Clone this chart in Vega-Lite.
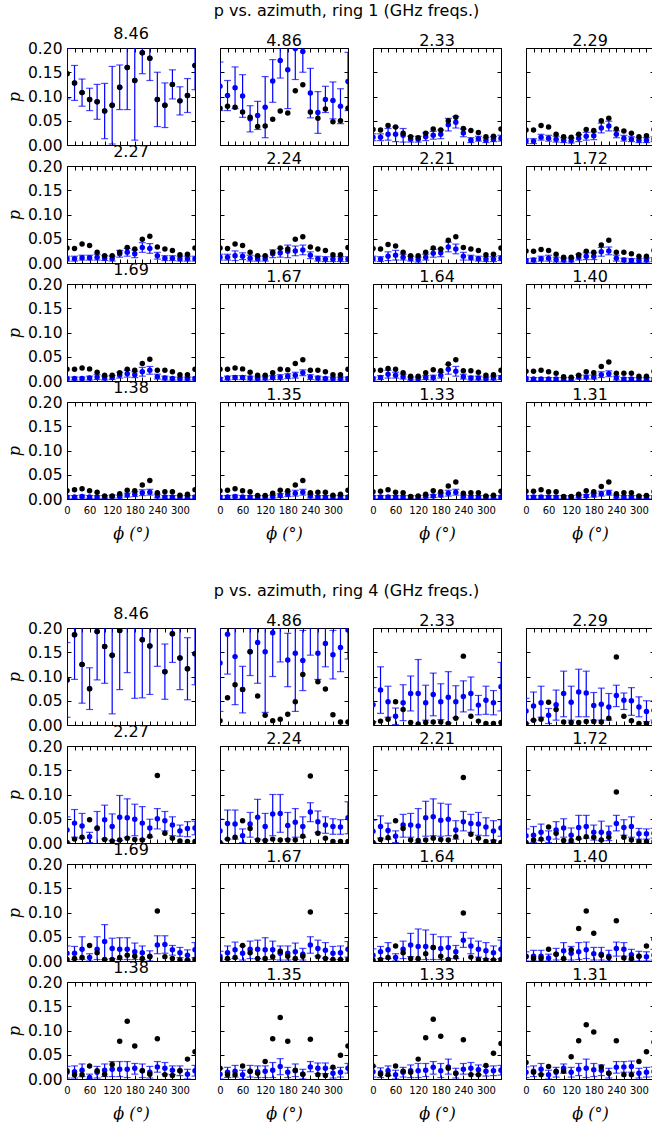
{
"$schema":"https://vega.github.io/schema/vega-lite/v6.json",
"padding":{"left":5,"top":2,"right":0,"bottom":0},
"spacing":40,
"datasets":{
"r1_846":[{"a":0,"b":0.147,"u":0.147,"lo":0.095,"hi":0.199},{"a":20,"b":0.128,"u":0.128,"lo":0.092,"hi":0.164},{"a":40,"b":0.108,"u":0.108,"lo":0.080,"hi":0.136},{"a":60,"b":0.094,"u":0.094,"lo":0.071,"hi":0.117},{"a":80,"b":0.089,"u":0.089,"lo":0.053,"hi":0.125},{"a":100,"b":0.070,"u":0.070,"lo":0.013,"hi":0.127},{"a":120,"b":0.082,"u":0.082,"lo":0.002,"hi":0.162},{"a":140,"b":0.119,"u":0.119,"lo":0.073,"hi":0.165},{"a":160,"b":0.160,"u":0.160,"lo":0.073,"hi":0.247},{"a":180,"b":0.133,"u":0.133,"lo":0.010,"hi":0.256},{"a":200,"b":0.190,"u":0.190,"lo":0.147,"hi":0.233},{"a":220,"b":0.179,"u":0.179,"lo":0.133,"hi":0.225},{"a":240,"b":0.094,"u":0.094,"lo":0.038,"hi":0.150},{"a":260,"b":0.082,"u":0.082,"lo":0.036,"hi":0.128},{"a":280,"b":0.125,"u":0.125,"lo":0.095,"hi":0.155},{"a":300,"b":0.091,"u":0.091,"lo":0.062,"hi":0.120},{"a":320,"b":0.102,"u":0.102,"lo":0.067,"hi":0.137},{"a":340,"b":0.164,"u":0.164,"lo":0.114,"hi":0.214}],
"r1_486":[{"a":0,"b":0.076,"u":0.121,"lo":0.071,"hi":0.171},{"a":20,"b":0.080,"u":0.102,"lo":0.071,"hi":0.133},{"a":40,"b":0.078,"u":0.118,"lo":0.075,"hi":0.161},{"a":60,"b":0.068,"u":0.101,"lo":0.057,"hi":0.145},{"a":80,"b":0.057,"u":0.054,"lo":0.027,"hi":0.081},{"a":100,"b":0.038,"u":0.061,"lo":0.032,"hi":0.090},{"a":120,"b":0.039,"u":0.078,"lo":0.015,"hi":0.141},{"a":140,"b":0.053,"u":0.132,"lo":0.088,"hi":0.176},{"a":160,"b":0.070,"u":0.174,"lo":0.138,"hi":0.210},{"a":180,"b":0.066,"u":0.155,"lo":0.075,"hi":0.235},{"a":200,"b":0.112,"u":0.199,"lo":0.135,"hi":0.263},{"a":220,"b":0.124,"u":0.193,"lo":0.150,"hi":0.236},{"a":240,"b":0.068,"u":0.107,"lo":0.056,"hi":0.158},{"a":260,"b":0.055,"u":0.067,"lo":0.024,"hi":0.110},{"a":280,"b":0.074,"u":0.094,"lo":0.067,"hi":0.121},{"a":300,"b":0.048,"u":0.092,"lo":0.054,"hi":0.130},{"a":320,"b":0.050,"u":0.080,"lo":0.044,"hi":0.116},{"a":340,"b":0.076,"u":0.131,"lo":0.071,"hi":0.191}],
"r1_233":[{"a":0,"b":0.032,"u":0.016,"lo":0.009,"hi":0.023},{"a":20,"b":0.031,"u":0.016,"lo":0.009,"hi":0.023},{"a":40,"b":0.040,"u":0.022,"lo":0.010,"hi":0.034},{"a":60,"b":0.037,"u":0.022,"lo":0.007,"hi":0.037},{"a":80,"b":0.024,"u":0.020,"lo":0.006,"hi":0.034},{"a":100,"b":0.017,"u":0.012,"lo":0.006,"hi":0.018},{"a":120,"b":0.015,"u":0.012,"lo":0.006,"hi":0.018},{"a":140,"b":0.024,"u":0.017,"lo":0.009,"hi":0.025},{"a":160,"b":0.033,"u":0.020,"lo":0.012,"hi":0.028},{"a":180,"b":0.031,"u":0.022,"lo":0.013,"hi":0.031},{"a":200,"b":0.050,"u":0.042,"lo":0.029,"hi":0.055},{"a":220,"b":0.057,"u":0.047,"lo":0.035,"hi":0.059},{"a":240,"b":0.034,"u":0.025,"lo":0.017,"hi":0.033},{"a":260,"b":0.030,"u":0.010,"lo":0.005,"hi":0.015},{"a":280,"b":0.026,"u":0.013,"lo":0.008,"hi":0.018},{"a":300,"b":0.017,"u":0.010,"lo":0.005,"hi":0.015},{"a":320,"b":0.018,"u":0.012,"lo":0.007,"hi":0.017},{"a":340,"b":0.033,"u":0.014,"lo":0.008,"hi":0.020}],
"r1_229":[{"a":0,"b":0.031,"u":0.008,"lo":0.003,"hi":0.013},{"a":20,"b":0.031,"u":0.008,"lo":0.003,"hi":0.013},{"a":40,"b":0.040,"u":0.016,"lo":0.010,"hi":0.022},{"a":60,"b":0.037,"u":0.014,"lo":0.008,"hi":0.020},{"a":80,"b":0.022,"u":0.012,"lo":0.006,"hi":0.018},{"a":100,"b":0.017,"u":0.010,"lo":0.005,"hi":0.015},{"a":120,"b":0.016,"u":0.009,"lo":0.004,"hi":0.014},{"a":140,"b":0.022,"u":0.014,"lo":0.007,"hi":0.021},{"a":160,"b":0.032,"u":0.018,"lo":0.010,"hi":0.026},{"a":180,"b":0.030,"u":0.019,"lo":0.011,"hi":0.027},{"a":200,"b":0.050,"u":0.035,"lo":0.025,"hi":0.045},{"a":220,"b":0.055,"u":0.039,"lo":0.029,"hi":0.049},{"a":240,"b":0.033,"u":0.022,"lo":0.015,"hi":0.029},{"a":260,"b":0.029,"u":0.014,"lo":0.008,"hi":0.020},{"a":280,"b":0.024,"u":0.012,"lo":0.007,"hi":0.017},{"a":300,"b":0.017,"u":0.010,"lo":0.005,"hi":0.015},{"a":320,"b":0.019,"u":0.010,"lo":0.005,"hi":0.015},{"a":340,"b":0.032,"u":0.012,"lo":0.007,"hi":0.017}],
"r1_227":[{"a":0,"b":0.031,"u":0.009,"lo":0.004,"hi":0.014},{"a":20,"b":0.030,"u":0.009,"lo":0.004,"hi":0.014},{"a":40,"b":0.039,"u":0.011,"lo":0.006,"hi":0.016},{"a":60,"b":0.036,"u":0.011,"lo":0.006,"hi":0.016},{"a":80,"b":0.022,"u":0.012,"lo":0.006,"hi":0.018},{"a":100,"b":0.015,"u":0.010,"lo":0.005,"hi":0.015},{"a":120,"b":0.015,"u":0.009,"lo":0.004,"hi":0.014},{"a":140,"b":0.022,"u":0.019,"lo":0.012,"hi":0.026},{"a":160,"b":0.032,"u":0.022,"lo":0.014,"hi":0.030},{"a":180,"b":0.029,"u":0.019,"lo":0.011,"hi":0.027},{"a":200,"b":0.049,"u":0.032,"lo":0.022,"hi":0.042},{"a":220,"b":0.055,"u":0.030,"lo":0.020,"hi":0.040},{"a":240,"b":0.033,"u":0.015,"lo":0.008,"hi":0.022},{"a":260,"b":0.029,"u":0.010,"lo":0.005,"hi":0.015},{"a":280,"b":0.026,"u":0.010,"lo":0.005,"hi":0.015},{"a":300,"b":0.017,"u":0.009,"lo":0.004,"hi":0.014},{"a":320,"b":0.018,"u":0.009,"lo":0.004,"hi":0.014},{"a":340,"b":0.031,"u":0.009,"lo":0.004,"hi":0.014}],
"r1_224":[{"a":0,"b":0.031,"u":0.012,"lo":0.006,"hi":0.018},{"a":20,"b":0.030,"u":0.012,"lo":0.006,"hi":0.018},{"a":40,"b":0.039,"u":0.015,"lo":0.005,"hi":0.025},{"a":60,"b":0.036,"u":0.014,"lo":0.007,"hi":0.021},{"a":80,"b":0.022,"u":0.010,"lo":0.004,"hi":0.016},{"a":100,"b":0.015,"u":0.009,"lo":0.004,"hi":0.014},{"a":120,"b":0.015,"u":0.009,"lo":0.004,"hi":0.014},{"a":140,"b":0.022,"u":0.019,"lo":0.011,"hi":0.027},{"a":160,"b":0.031,"u":0.021,"lo":0.012,"hi":0.030},{"a":180,"b":0.029,"u":0.024,"lo":0.011,"hi":0.037},{"a":200,"b":0.049,"u":0.025,"lo":0.015,"hi":0.035},{"a":220,"b":0.054,"u":0.027,"lo":0.017,"hi":0.037},{"a":240,"b":0.033,"u":0.016,"lo":0.009,"hi":0.023},{"a":260,"b":0.029,"u":0.009,"lo":0.004,"hi":0.014},{"a":280,"b":0.026,"u":0.008,"lo":0.003,"hi":0.013},{"a":300,"b":0.017,"u":0.008,"lo":0.003,"hi":0.013},{"a":320,"b":0.017,"u":0.008,"lo":0.003,"hi":0.013},{"a":340,"b":0.032,"u":0.008,"lo":0.003,"hi":0.013}],
"r1_221":[{"a":0,"b":0.030,"u":0.009,"lo":0.004,"hi":0.014},{"a":20,"b":0.029,"u":0.008,"lo":0.003,"hi":0.013},{"a":40,"b":0.038,"u":0.014,"lo":0.005,"hi":0.023},{"a":60,"b":0.035,"u":0.016,"lo":0.006,"hi":0.026},{"a":80,"b":0.022,"u":0.012,"lo":0.006,"hi":0.018},{"a":100,"b":0.015,"u":0.009,"lo":0.004,"hi":0.014},{"a":120,"b":0.015,"u":0.007,"lo":0.002,"hi":0.012},{"a":140,"b":0.022,"u":0.012,"lo":0.006,"hi":0.018},{"a":160,"b":0.031,"u":0.020,"lo":0.012,"hi":0.028},{"a":180,"b":0.029,"u":0.021,"lo":0.013,"hi":0.029},{"a":200,"b":0.047,"u":0.033,"lo":0.023,"hi":0.043},{"a":220,"b":0.054,"u":0.029,"lo":0.019,"hi":0.039},{"a":240,"b":0.032,"u":0.014,"lo":0.006,"hi":0.022},{"a":260,"b":0.029,"u":0.011,"lo":0.006,"hi":0.016},{"a":280,"b":0.026,"u":0.009,"lo":0.004,"hi":0.014},{"a":300,"b":0.017,"u":0.008,"lo":0.003,"hi":0.013},{"a":320,"b":0.018,"u":0.008,"lo":0.003,"hi":0.013},{"a":340,"b":0.031,"u":0.010,"lo":0.005,"hi":0.015}],
"r1_172":[{"a":0,"b":0.025,"u":0.005,"lo":0.001,"hi":0.009},{"a":20,"b":0.024,"u":0.006,"lo":0.002,"hi":0.010},{"a":40,"b":0.028,"u":0.009,"lo":0.004,"hi":0.014},{"a":60,"b":0.026,"u":0.010,"lo":0.004,"hi":0.016},{"a":80,"b":0.018,"u":0.007,"lo":0.002,"hi":0.012},{"a":100,"b":0.012,"u":0.006,"lo":0.002,"hi":0.010},{"a":120,"b":0.012,"u":0.006,"lo":0.002,"hi":0.010},{"a":140,"b":0.017,"u":0.012,"lo":0.006,"hi":0.018},{"a":160,"b":0.024,"u":0.014,"lo":0.007,"hi":0.021},{"a":180,"b":0.022,"u":0.014,"lo":0.007,"hi":0.021},{"a":200,"b":0.037,"u":0.023,"lo":0.014,"hi":0.032},{"a":220,"b":0.047,"u":0.025,"lo":0.017,"hi":0.033},{"a":240,"b":0.022,"u":0.010,"lo":0.004,"hi":0.016},{"a":260,"b":0.022,"u":0.006,"lo":0.002,"hi":0.010},{"a":280,"b":0.019,"u":0.005,"lo":0.001,"hi":0.009},{"a":300,"b":0.014,"u":0.005,"lo":0.001,"hi":0.009},{"a":320,"b":0.014,"u":0.006,"lo":0.002,"hi":0.010},{"a":340,"b":0.026,"u":0.007,"lo":0.003,"hi":0.011}],
"r1_169":[{"a":0,"b":0.024,"u":0.005,"lo":0.002,"hi":0.008},{"a":20,"b":0.024,"u":0.005,"lo":0.002,"hi":0.008},{"a":40,"b":0.027,"u":0.005,"lo":0.002,"hi":0.008},{"a":60,"b":0.025,"u":0.006,"lo":0.002,"hi":0.010},{"a":80,"b":0.018,"u":0.008,"lo":0.003,"hi":0.013},{"a":100,"b":0.012,"u":0.006,"lo":0.002,"hi":0.010},{"a":120,"b":0.012,"u":0.007,"lo":0.003,"hi":0.011},{"a":140,"b":0.017,"u":0.012,"lo":0.006,"hi":0.018},{"a":160,"b":0.024,"u":0.015,"lo":0.008,"hi":0.022},{"a":180,"b":0.022,"u":0.013,"lo":0.007,"hi":0.019},{"a":200,"b":0.036,"u":0.019,"lo":0.010,"hi":0.028},{"a":220,"b":0.045,"u":0.022,"lo":0.014,"hi":0.030},{"a":240,"b":0.022,"u":0.009,"lo":0.004,"hi":0.014},{"a":260,"b":0.022,"u":0.006,"lo":0.002,"hi":0.010},{"a":280,"b":0.019,"u":0.005,"lo":0.002,"hi":0.008},{"a":300,"b":0.013,"u":0.005,"lo":0.002,"hi":0.008},{"a":320,"b":0.013,"u":0.005,"lo":0.002,"hi":0.008},{"a":340,"b":0.024,"u":0.005,"lo":0.002,"hi":0.008}],
"r1_167":[{"a":0,"b":0.024,"u":0.004,"lo":0.001,"hi":0.007},{"a":20,"b":0.024,"u":0.006,"lo":0.002,"hi":0.010},{"a":40,"b":0.027,"u":0.007,"lo":0.003,"hi":0.011},{"a":60,"b":0.025,"u":0.007,"lo":0.003,"hi":0.011},{"a":80,"b":0.018,"u":0.006,"lo":0.002,"hi":0.010},{"a":100,"b":0.012,"u":0.005,"lo":0.002,"hi":0.008},{"a":120,"b":0.012,"u":0.006,"lo":0.002,"hi":0.010},{"a":140,"b":0.017,"u":0.007,"lo":0.003,"hi":0.011},{"a":160,"b":0.024,"u":0.008,"lo":0.003,"hi":0.013},{"a":180,"b":0.023,"u":0.010,"lo":0.005,"hi":0.015},{"a":200,"b":0.036,"u":0.012,"lo":0.006,"hi":0.018},{"a":220,"b":0.044,"u":0.017,"lo":0.011,"hi":0.023},{"a":240,"b":0.022,"u":0.008,"lo":0.003,"hi":0.013},{"a":260,"b":0.022,"u":0.006,"lo":0.002,"hi":0.010},{"a":280,"b":0.019,"u":0.005,"lo":0.002,"hi":0.008},{"a":300,"b":0.013,"u":0.005,"lo":0.002,"hi":0.008},{"a":320,"b":0.013,"u":0.005,"lo":0.002,"hi":0.008},{"a":340,"b":0.024,"u":0.005,"lo":0.002,"hi":0.008}],
"r1_164":[{"a":0,"b":0.022,"u":0.005,"lo":0.002,"hi":0.008},{"a":20,"b":0.022,"u":0.007,"lo":0.003,"hi":0.011},{"a":40,"b":0.026,"u":0.014,"lo":0.006,"hi":0.022},{"a":60,"b":0.024,"u":0.012,"lo":0.006,"hi":0.018},{"a":80,"b":0.017,"u":0.009,"lo":0.004,"hi":0.014},{"a":100,"b":0.010,"u":0.005,"lo":0.002,"hi":0.008},{"a":120,"b":0.010,"u":0.005,"lo":0.002,"hi":0.008},{"a":140,"b":0.017,"u":0.007,"lo":0.003,"hi":0.011},{"a":160,"b":0.023,"u":0.007,"lo":0.002,"hi":0.012},{"a":180,"b":0.021,"u":0.012,"lo":0.006,"hi":0.018},{"a":200,"b":0.035,"u":0.024,"lo":0.014,"hi":0.034},{"a":220,"b":0.044,"u":0.020,"lo":0.010,"hi":0.030},{"a":240,"b":0.021,"u":0.009,"lo":0.004,"hi":0.014},{"a":260,"b":0.021,"u":0.006,"lo":0.002,"hi":0.010},{"a":280,"b":0.018,"u":0.006,"lo":0.002,"hi":0.010},{"a":300,"b":0.012,"u":0.005,"lo":0.002,"hi":0.008},{"a":320,"b":0.013,"u":0.006,"lo":0.002,"hi":0.010},{"a":340,"b":0.022,"u":0.007,"lo":0.003,"hi":0.011}],
"r1_140":[{"a":0,"b":0.020,"u":0.005,"lo":0.002,"hi":0.008},{"a":20,"b":0.020,"u":0.004,"lo":0.001,"hi":0.007},{"a":40,"b":0.022,"u":0.004,"lo":0.001,"hi":0.007},{"a":60,"b":0.019,"u":0.004,"lo":0.001,"hi":0.007},{"a":80,"b":0.016,"u":0.004,"lo":0.001,"hi":0.007},{"a":100,"b":0.009,"u":0.004,"lo":0.001,"hi":0.007},{"a":120,"b":0.008,"u":0.004,"lo":0.001,"hi":0.007},{"a":140,"b":0.012,"u":0.008,"lo":0.004,"hi":0.012},{"a":160,"b":0.019,"u":0.008,"lo":0.004,"hi":0.012},{"a":180,"b":0.017,"u":0.008,"lo":0.004,"hi":0.012},{"a":200,"b":0.030,"u":0.013,"lo":0.007,"hi":0.019},{"a":220,"b":0.039,"u":0.015,"lo":0.009,"hi":0.021},{"a":240,"b":0.016,"u":0.006,"lo":0.002,"hi":0.010},{"a":260,"b":0.016,"u":0.004,"lo":0.001,"hi":0.007},{"a":280,"b":0.016,"u":0.004,"lo":0.001,"hi":0.007},{"a":300,"b":0.010,"u":0.004,"lo":0.001,"hi":0.007},{"a":320,"b":0.010,"u":0.004,"lo":0.001,"hi":0.007},{"a":340,"b":0.020,"u":0.004,"lo":0.001,"hi":0.007}],
"r1_138":[{"a":0,"b":0.017,"u":0.004,"lo":0.001,"hi":0.007},{"a":20,"b":0.019,"u":0.004,"lo":0.001,"hi":0.007},{"a":40,"b":0.021,"u":0.005,"lo":0.002,"hi":0.008},{"a":60,"b":0.017,"u":0.004,"lo":0.001,"hi":0.007},{"a":80,"b":0.014,"u":0.004,"lo":0.001,"hi":0.007},{"a":100,"b":0.006,"u":0.004,"lo":0.001,"hi":0.007},{"a":120,"b":0.006,"u":0.005,"lo":0.002,"hi":0.008},{"a":140,"b":0.011,"u":0.005,"lo":0.002,"hi":0.008},{"a":160,"b":0.018,"u":0.008,"lo":0.004,"hi":0.012},{"a":180,"b":0.017,"u":0.010,"lo":0.005,"hi":0.015},{"a":200,"b":0.029,"u":0.013,"lo":0.007,"hi":0.019},{"a":220,"b":0.038,"u":0.014,"lo":0.008,"hi":0.020},{"a":240,"b":0.013,"u":0.006,"lo":0.002,"hi":0.010},{"a":260,"b":0.015,"u":0.004,"lo":0.001,"hi":0.007},{"a":280,"b":0.015,"u":0.004,"lo":0.001,"hi":0.007},{"a":300,"b":0.008,"u":0.004,"lo":0.001,"hi":0.007},{"a":320,"b":0.010,"u":0.004,"lo":0.001,"hi":0.007},{"a":340,"b":0.019,"u":0.004,"lo":0.001,"hi":0.007}],
"r1_135":[{"a":0,"b":0.017,"u":0.004,"lo":0.001,"hi":0.007},{"a":20,"b":0.018,"u":0.004,"lo":0.001,"hi":0.007},{"a":40,"b":0.021,"u":0.005,"lo":0.002,"hi":0.008},{"a":60,"b":0.017,"u":0.004,"lo":0.001,"hi":0.007},{"a":80,"b":0.015,"u":0.004,"lo":0.001,"hi":0.007},{"a":100,"b":0.007,"u":0.004,"lo":0.001,"hi":0.007},{"a":120,"b":0.007,"u":0.004,"lo":0.001,"hi":0.007},{"a":140,"b":0.012,"u":0.005,"lo":0.002,"hi":0.008},{"a":160,"b":0.018,"u":0.007,"lo":0.003,"hi":0.011},{"a":180,"b":0.017,"u":0.010,"lo":0.005,"hi":0.015},{"a":200,"b":0.029,"u":0.012,"lo":0.006,"hi":0.018},{"a":220,"b":0.038,"u":0.014,"lo":0.008,"hi":0.020},{"a":240,"b":0.013,"u":0.006,"lo":0.002,"hi":0.010},{"a":260,"b":0.014,"u":0.004,"lo":0.001,"hi":0.007},{"a":280,"b":0.014,"u":0.004,"lo":0.001,"hi":0.007},{"a":300,"b":0.008,"u":0.004,"lo":0.001,"hi":0.007},{"a":320,"b":0.010,"u":0.004,"lo":0.001,"hi":0.007},{"a":340,"b":0.018,"u":0.004,"lo":0.001,"hi":0.007}],
"r1_133":[{"a":0,"b":0.015,"u":0.004,"lo":0.001,"hi":0.007},{"a":20,"b":0.016,"u":0.004,"lo":0.001,"hi":0.007},{"a":40,"b":0.019,"u":0.004,"lo":0.001,"hi":0.007},{"a":60,"b":0.014,"u":0.004,"lo":0.001,"hi":0.007},{"a":80,"b":0.013,"u":0.004,"lo":0.001,"hi":0.007},{"a":100,"b":0.005,"u":0.004,"lo":0.001,"hi":0.007},{"a":120,"b":0.006,"u":0.004,"lo":0.001,"hi":0.007},{"a":140,"b":0.010,"u":0.005,"lo":0.002,"hi":0.008},{"a":160,"b":0.017,"u":0.006,"lo":0.003,"hi":0.009},{"a":180,"b":0.015,"u":0.008,"lo":0.004,"hi":0.012},{"a":200,"b":0.027,"u":0.012,"lo":0.006,"hi":0.018},{"a":220,"b":0.035,"u":0.014,"lo":0.008,"hi":0.020},{"a":240,"b":0.012,"u":0.005,"lo":0.002,"hi":0.008},{"a":260,"b":0.013,"u":0.004,"lo":0.001,"hi":0.007},{"a":280,"b":0.013,"u":0.004,"lo":0.001,"hi":0.007},{"a":300,"b":0.006,"u":0.004,"lo":0.001,"hi":0.007},{"a":320,"b":0.008,"u":0.004,"lo":0.001,"hi":0.007},{"a":340,"b":0.016,"u":0.004,"lo":0.001,"hi":0.007}],
"r1_131":[{"a":0,"b":0.016,"u":0.004,"lo":0.001,"hi":0.007},{"a":20,"b":0.016,"u":0.004,"lo":0.001,"hi":0.007},{"a":40,"b":0.019,"u":0.004,"lo":0.001,"hi":0.007},{"a":60,"b":0.015,"u":0.004,"lo":0.001,"hi":0.007},{"a":80,"b":0.015,"u":0.004,"lo":0.001,"hi":0.007},{"a":100,"b":0.005,"u":0.004,"lo":0.001,"hi":0.007},{"a":120,"b":0.005,"u":0.004,"lo":0.001,"hi":0.007},{"a":140,"b":0.010,"u":0.005,"lo":0.002,"hi":0.008},{"a":160,"b":0.017,"u":0.006,"lo":0.003,"hi":0.009},{"a":180,"b":0.015,"u":0.008,"lo":0.004,"hi":0.012},{"a":200,"b":0.026,"u":0.011,"lo":0.006,"hi":0.016},{"a":220,"b":0.035,"u":0.013,"lo":0.008,"hi":0.018},{"a":240,"b":0.011,"u":0.005,"lo":0.002,"hi":0.008},{"a":260,"b":0.013,"u":0.004,"lo":0.001,"hi":0.007},{"a":280,"b":0.013,"u":0.004,"lo":0.001,"hi":0.007},{"a":300,"b":0.006,"u":0.004,"lo":0.001,"hi":0.007},{"a":320,"b":0.007,"u":0.004,"lo":0.001,"hi":0.007},{"a":340,"b":0.015,"u":0.004,"lo":0.001,"hi":0.007}],
"r4_846":[{"a":0,"b":0.093,"u":0.093,"lo":0.016,"hi":0.170},{"a":20,"b":0.186,"u":0.186,"lo":0.094,"hi":0.278},{"a":40,"b":0.125,"u":0.125,"lo":0.045,"hi":0.205},{"a":60,"b":0.075,"u":0.075,"lo":0.032,"hi":0.118},{"a":80,"b":0.193,"u":0.193,"lo":0.093,"hi":0.293},{"a":100,"b":0.162,"u":0.162,"lo":0.086,"hi":0.238},{"a":120,"b":0.144,"u":0.144,"lo":0.023,"hi":0.265},{"a":140,"b":0.195,"u":0.195,"lo":0.073,"hi":0.317},{"a":160,"b":0.215,"u":0.215,"lo":0.108,"hi":0.322},{"a":180,"b":0.215,"u":0.215,"lo":0.055,"hi":0.375},{"a":200,"b":0.176,"u":0.176,"lo":0.056,"hi":0.296},{"a":220,"b":0.163,"u":0.163,"lo":0.063,"hi":0.263},{"a":240,"b":0.215,"u":0.215,"lo":0.121,"hi":0.309},{"a":260,"b":0.110,"u":0.110,"lo":0.053,"hi":0.167},{"a":280,"b":0.188,"u":0.188,"lo":0.129,"hi":0.247},{"a":300,"b":0.138,"u":0.138,"lo":0.073,"hi":0.203},{"a":320,"b":0.116,"u":0.116,"lo":0.052,"hi":0.180},{"a":340,"b":0.147,"u":0.147,"lo":0.083,"hi":0.211}],
"r4_486":[{"a":0,"b":0.009,"u":0.128,"lo":0.028,"hi":0.228},{"a":20,"b":0.056,"u":0.187,"lo":0.105,"hi":0.269},{"a":40,"b":0.083,"u":0.141,"lo":0.042,"hi":0.240},{"a":60,"b":0.073,"u":0.073,"lo":0.025,"hi":0.121},{"a":80,"b":0.151,"u":0.151,"lo":0.102,"hi":0.200},{"a":100,"b":0.060,"u":0.170,"lo":0.086,"hi":0.254},{"a":120,"b":0.020,"u":0.151,"lo":0.026,"hi":0.276},{"a":140,"b":0.009,"u":0.190,"lo":0.100,"hi":0.280},{"a":160,"b":0.012,"u":0.210,"lo":0.130,"hi":0.290},{"a":180,"b":0.022,"u":0.134,"lo":0.079,"hi":0.189},{"a":200,"b":0.048,"u":0.148,"lo":0.028,"hi":0.268},{"a":220,"b":0.104,"u":0.133,"lo":0.071,"hi":0.195},{"a":240,"b":0.205,"u":0.220,"lo":0.144,"hi":0.296},{"a":260,"b":0.089,"u":0.148,"lo":0.094,"hi":0.202},{"a":280,"b":0.074,"u":0.168,"lo":0.120,"hi":0.216},{"a":300,"b":0.021,"u":0.145,"lo":0.095,"hi":0.195},{"a":320,"b":0.006,"u":0.160,"lo":0.110,"hi":0.210},{"a":340,"b":0.006,"u":0.196,"lo":0.136,"hi":0.256}],
"r4_233":[{"a":0,"b":0.005,"u":0.042,"lo":0.007,"hi":0.077},{"a":20,"b":0.008,"u":0.072,"lo":0.024,"hi":0.120},{"a":40,"b":0.012,"u":0.048,"lo":0.016,"hi":0.080},{"a":60,"b":0.048,"u":0.018,"lo":0.001,"hi":0.035},{"a":80,"b":0.032,"u":0.046,"lo":0.009,"hi":0.083},{"a":100,"b":0.005,"u":0.065,"lo":0.029,"hi":0.101},{"a":120,"b":0.002,"u":0.065,"lo":-0.005,"hi":0.135},{"a":140,"b":0.005,"u":0.046,"lo":0.010,"hi":0.082},{"a":160,"b":0.006,"u":0.063,"lo":0.019,"hi":0.107},{"a":180,"b":0.006,"u":0.048,"lo":0.011,"hi":0.085},{"a":200,"b":0.003,"u":0.057,"lo":0.004,"hi":0.110},{"a":220,"b":0.014,"u":0.048,"lo":0.015,"hi":0.081},{"a":240,"b":0.142,"u":0.059,"lo":0.027,"hi":0.091},{"a":260,"b":0.018,"u":0.065,"lo":0.031,"hi":0.099},{"a":280,"b":0.008,"u":0.041,"lo":0.021,"hi":0.061},{"a":300,"b":0.003,"u":0.051,"lo":0.022,"hi":0.080},{"a":320,"b":0.003,"u":0.046,"lo":0.021,"hi":0.071},{"a":340,"b":0.005,"u":0.079,"lo":0.029,"hi":0.129}],
"r4_229":[{"a":0,"b":0.003,"u":0.029,"lo":0.003,"hi":0.055},{"a":20,"b":0.010,"u":0.039,"lo":0.010,"hi":0.068},{"a":40,"b":0.012,"u":0.046,"lo":0.016,"hi":0.080},{"a":60,"b":0.047,"u":0.020,"lo":0.003,"hi":0.034},{"a":80,"b":0.032,"u":0.042,"lo":0.010,"hi":0.072},{"a":100,"b":0.006,"u":0.065,"lo":0.017,"hi":0.111},{"a":120,"b":0.005,"u":0.047,"lo":0.010,"hi":0.080},{"a":140,"b":0.005,"u":0.068,"lo":0.017,"hi":0.115},{"a":160,"b":0.007,"u":0.066,"lo":0.017,"hi":0.111},{"a":180,"b":0.007,"u":0.040,"lo":0.010,"hi":0.067},{"a":200,"b":0.006,"u":0.043,"lo":0.010,"hi":0.076},{"a":220,"b":0.014,"u":0.037,"lo":0.010,"hi":0.065},{"a":240,"b":0.140,"u":0.061,"lo":0.038,"hi":0.082},{"a":260,"b":0.018,"u":0.051,"lo":0.032,"hi":0.066},{"a":280,"b":0.009,"u":0.050,"lo":0.020,"hi":0.077},{"a":300,"b":0.003,"u":0.037,"lo":0.017,"hi":0.058},{"a":320,"b":0.003,"u":0.028,"lo":0.007,"hi":0.050},{"a":340,"b":0.005,"u":0.030,"lo":0.010,"hi":0.050}],
"r4_227":[{"a":0,"b":0.001,"u":0.027,"lo":0.001,"hi":0.054},{"a":20,"b":0.008,"u":0.041,"lo":0.012,"hi":0.069},{"a":40,"b":0.012,"u":0.035,"lo":0.010,"hi":0.061},{"a":60,"b":0.048,"u":0.013,"lo":0.001,"hi":0.022},{"a":80,"b":0.031,"u":0.030,"lo":-0.005,"hi":0.065},{"a":100,"b":0.007,"u":0.048,"lo":0.008,"hi":0.078},{"a":120,"b":0.004,"u":0.034,"lo":0.005,"hi":0.060},{"a":140,"b":0.006,"u":0.053,"lo":0.005,"hi":0.098},{"a":160,"b":0.010,"u":0.052,"lo":0.012,"hi":0.091},{"a":180,"b":0.007,"u":0.049,"lo":0.015,"hi":0.080},{"a":200,"b":0.006,"u":0.041,"lo":0.008,"hi":0.075},{"a":220,"b":0.014,"u":0.031,"lo":0.012,"hi":0.049},{"a":240,"b":0.139,"u":0.050,"lo":0.029,"hi":0.071},{"a":260,"b":0.020,"u":0.046,"lo":0.025,"hi":0.065},{"a":280,"b":0.010,"u":0.037,"lo":0.015,"hi":0.054},{"a":300,"b":0.004,"u":0.025,"lo":0.014,"hi":0.037},{"a":320,"b":0.003,"u":0.030,"lo":0.013,"hi":0.044},{"a":340,"b":0.003,"u":0.031,"lo":0.017,"hi":0.045}],
"r4_224":[{"a":0,"b":0.001,"u":0.025,"lo":0.001,"hi":0.049},{"a":20,"b":0.008,"u":0.040,"lo":0.008,"hi":0.068},{"a":40,"b":0.012,"u":0.039,"lo":0.008,"hi":0.068},{"a":60,"b":0.046,"u":0.015,"lo":0.001,"hi":0.029},{"a":80,"b":0.030,"u":0.039,"lo":0.012,"hi":0.063},{"a":100,"b":0.006,"u":0.053,"lo":0.008,"hi":0.090},{"a":120,"b":0.005,"u":0.034,"lo":0.006,"hi":0.061},{"a":140,"b":0.008,"u":0.060,"lo":0.015,"hi":0.100},{"a":160,"b":0.006,"u":0.061,"lo":0.022,"hi":0.100},{"a":180,"b":0.006,"u":0.036,"lo":0.008,"hi":0.063},{"a":200,"b":0.006,"u":0.043,"lo":0.012,"hi":0.071},{"a":220,"b":0.014,"u":0.034,"lo":0.012,"hi":0.054},{"a":240,"b":0.138,"u":0.064,"lo":0.044,"hi":0.083},{"a":260,"b":0.020,"u":0.044,"lo":0.022,"hi":0.066},{"a":280,"b":0.010,"u":0.037,"lo":0.020,"hi":0.054},{"a":300,"b":0.003,"u":0.034,"lo":0.018,"hi":0.050},{"a":320,"b":0.003,"u":0.033,"lo":0.018,"hi":0.048},{"a":340,"b":0.003,"u":0.052,"lo":0.019,"hi":0.085}],
"r4_221":[{"a":0,"b":0.001,"u":0.024,"lo":0.001,"hi":0.047},{"a":20,"b":0.007,"u":0.034,"lo":0.010,"hi":0.056},{"a":40,"b":0.011,"u":0.026,"lo":0.008,"hi":0.041},{"a":60,"b":0.046,"u":0.014,"lo":0.001,"hi":0.025},{"a":80,"b":0.030,"u":0.037,"lo":0.012,"hi":0.059},{"a":100,"b":0.006,"u":0.037,"lo":0.012,"hi":0.061},{"a":120,"b":0.005,"u":0.035,"lo":0.001,"hi":0.071},{"a":140,"b":0.006,"u":0.052,"lo":0.014,"hi":0.086},{"a":160,"b":0.010,"u":0.054,"lo":0.015,"hi":0.091},{"a":180,"b":0.007,"u":0.047,"lo":0.014,"hi":0.082},{"a":200,"b":0.006,"u":0.049,"lo":0.015,"hi":0.080},{"a":220,"b":0.013,"u":0.027,"lo":0.008,"hi":0.046},{"a":240,"b":0.135,"u":0.044,"lo":0.025,"hi":0.065},{"a":260,"b":0.018,"u":0.040,"lo":0.022,"hi":0.059},{"a":280,"b":0.010,"u":0.039,"lo":0.016,"hi":0.063},{"a":300,"b":0.003,"u":0.033,"lo":0.015,"hi":0.052},{"a":320,"b":0.003,"u":0.025,"lo":0.006,"hi":0.046},{"a":340,"b":0.001,"u":0.031,"lo":0.014,"hi":0.048}],
"r4_172":[{"a":0,"b":0.001,"u":0.015,"lo":0.001,"hi":0.029},{"a":20,"b":0.006,"u":0.016,"lo":0.001,"hi":0.034},{"a":40,"b":0.008,"u":0.022,"lo":0.005,"hi":0.039},{"a":60,"b":0.033,"u":0.010,"lo":0.001,"hi":0.025},{"a":80,"b":0.020,"u":0.027,"lo":0.008,"hi":0.044},{"a":100,"b":0.005,"u":0.031,"lo":0.012,"hi":0.050},{"a":120,"b":0.005,"u":0.016,"lo":0.001,"hi":0.031},{"a":140,"b":0.010,"u":0.032,"lo":0.008,"hi":0.057},{"a":160,"b":0.013,"u":0.034,"lo":0.010,"hi":0.057},{"a":180,"b":0.012,"u":0.022,"lo":0.006,"hi":0.037},{"a":200,"b":0.006,"u":0.022,"lo":0.005,"hi":0.045},{"a":220,"b":0.012,"u":0.020,"lo":0.005,"hi":0.035},{"a":240,"b":0.105,"u":0.040,"lo":0.025,"hi":0.057},{"a":260,"b":0.012,"u":0.032,"lo":0.016,"hi":0.048},{"a":280,"b":0.006,"u":0.034,"lo":0.012,"hi":0.054},{"a":300,"b":0.003,"u":0.019,"lo":0.008,"hi":0.030},{"a":320,"b":0.003,"u":0.019,"lo":0.008,"hi":0.029},{"a":340,"b":0.003,"u":0.020,"lo":0.010,"hi":0.030}],
"r4_169":[{"a":0,"b":0.003,"u":0.016,"lo":0.000,"hi":0.031},{"a":20,"b":0.005,"u":0.016,"lo":0.003,"hi":0.030},{"a":40,"b":0.007,"u":0.024,"lo":0.003,"hi":0.050},{"a":60,"b":0.032,"u":0.007,"lo":0.000,"hi":0.015},{"a":80,"b":0.017,"u":0.024,"lo":0.003,"hi":0.050},{"a":100,"b":0.003,"u":0.040,"lo":0.003,"hi":0.075},{"a":120,"b":0.003,"u":0.026,"lo":0.005,"hi":0.047},{"a":140,"b":0.007,"u":0.024,"lo":0.003,"hi":0.048},{"a":160,"b":0.012,"u":0.024,"lo":0.003,"hi":0.048},{"a":180,"b":0.010,"u":0.019,"lo":0.003,"hi":0.037},{"a":200,"b":0.005,"u":0.017,"lo":0.003,"hi":0.031},{"a":220,"b":0.009,"u":0.010,"lo":0.000,"hi":0.021},{"a":240,"b":0.103,"u":0.033,"lo":0.015,"hi":0.052},{"a":260,"b":0.009,"u":0.034,"lo":0.016,"hi":0.052},{"a":280,"b":0.005,"u":0.023,"lo":0.012,"hi":0.032},{"a":300,"b":0.002,"u":0.017,"lo":0.007,"hi":0.028},{"a":320,"b":0.002,"u":0.012,"lo":0.002,"hi":0.023},{"a":340,"b":0.003,"u":0.023,"lo":0.007,"hi":0.038}],
"r4_167":[{"a":0,"b":0.004,"u":0.010,"lo":0.000,"hi":0.020},{"a":20,"b":0.005,"u":0.017,"lo":0.003,"hi":0.031},{"a":40,"b":0.007,"u":0.023,"lo":0.005,"hi":0.039},{"a":60,"b":0.032,"u":0.016,"lo":0.002,"hi":0.031},{"a":80,"b":0.017,"u":0.024,"lo":0.005,"hi":0.041},{"a":100,"b":0.005,"u":0.024,"lo":0.005,"hi":0.043},{"a":120,"b":0.005,"u":0.023,"lo":0.003,"hi":0.048},{"a":140,"b":0.009,"u":0.023,"lo":0.003,"hi":0.041},{"a":160,"b":0.020,"u":0.016,"lo":0.002,"hi":0.031},{"a":180,"b":0.010,"u":0.016,"lo":0.002,"hi":0.031},{"a":200,"b":0.005,"u":0.019,"lo":0.003,"hi":0.037},{"a":220,"b":0.010,"u":0.014,"lo":0.002,"hi":0.026},{"a":240,"b":0.101,"u":0.033,"lo":0.016,"hi":0.050},{"a":260,"b":0.009,"u":0.026,"lo":0.010,"hi":0.043},{"a":280,"b":0.005,"u":0.022,"lo":0.006,"hi":0.038},{"a":300,"b":0.003,"u":0.016,"lo":0.003,"hi":0.030},{"a":320,"b":0.003,"u":0.017,"lo":0.003,"hi":0.031},{"a":340,"b":0.003,"u":0.024,"lo":0.008,"hi":0.040}],
"r4_164":[{"a":0,"b":0.002,"u":0.012,"lo":0.000,"hi":0.025},{"a":20,"b":0.003,"u":0.019,"lo":0.005,"hi":0.030},{"a":40,"b":0.007,"u":0.023,"lo":0.005,"hi":0.038},{"a":60,"b":0.031,"u":0.007,"lo":0.000,"hi":0.015},{"a":80,"b":0.017,"u":0.024,"lo":0.005,"hi":0.041},{"a":100,"b":0.005,"u":0.033,"lo":0.009,"hi":0.057},{"a":120,"b":0.005,"u":0.030,"lo":0.003,"hi":0.066},{"a":140,"b":0.015,"u":0.030,"lo":0.003,"hi":0.064},{"a":160,"b":0.028,"u":0.028,"lo":0.003,"hi":0.055},{"a":180,"b":0.010,"u":0.026,"lo":0.003,"hi":0.050},{"a":200,"b":0.003,"u":0.028,"lo":0.005,"hi":0.050},{"a":220,"b":0.008,"u":0.019,"lo":0.005,"hi":0.032},{"a":240,"b":0.099,"u":0.043,"lo":0.028,"hi":0.059},{"a":260,"b":0.008,"u":0.031,"lo":0.015,"hi":0.047},{"a":280,"b":0.003,"u":0.024,"lo":0.008,"hi":0.041},{"a":300,"b":0.002,"u":0.021,"lo":0.005,"hi":0.038},{"a":320,"b":0.002,"u":0.017,"lo":0.003,"hi":0.031},{"a":340,"b":0.003,"u":0.024,"lo":0.005,"hi":0.043}],
"r4_140":[{"a":0,"b":0.010,"u":0.009,"lo":0.000,"hi":0.019},{"a":20,"b":0.005,"u":0.010,"lo":0.000,"hi":0.022},{"a":40,"b":0.005,"u":0.010,"lo":0.000,"hi":0.022},{"a":60,"b":0.024,"u":0.006,"lo":0.000,"hi":0.014},{"a":80,"b":0.014,"u":0.014,"lo":0.002,"hi":0.026},{"a":100,"b":0.005,"u":0.021,"lo":0.003,"hi":0.038},{"a":120,"b":0.023,"u":0.016,"lo":0.002,"hi":0.030},{"a":140,"b":0.067,"u":0.019,"lo":0.003,"hi":0.038},{"a":160,"b":0.103,"u":0.023,"lo":0.005,"hi":0.039},{"a":180,"b":0.057,"u":0.015,"lo":0.002,"hi":0.028},{"a":200,"b":0.012,"u":0.014,"lo":0.002,"hi":0.028},{"a":220,"b":0.007,"u":0.010,"lo":0.000,"hi":0.022},{"a":240,"b":0.083,"u":0.026,"lo":0.010,"hi":0.039},{"a":260,"b":0.006,"u":0.024,"lo":0.010,"hi":0.038},{"a":280,"b":0.005,"u":0.013,"lo":0.002,"hi":0.024},{"a":300,"b":0.010,"u":0.010,"lo":0.000,"hi":0.020},{"a":320,"b":0.031,"u":0.009,"lo":0.000,"hi":0.019},{"a":340,"b":0.045,"u":0.012,"lo":0.002,"hi":0.024}],
"r4_138":[{"a":0,"b":0.017,"u":0.014,"lo":0.002,"hi":0.026},{"a":20,"b":0.009,"u":0.015,"lo":0.002,"hi":0.027},{"a":40,"b":0.009,"u":0.018,"lo":0.005,"hi":0.031},{"a":60,"b":0.027,"u":0.003,"lo":0.000,"hi":0.010},{"a":80,"b":0.017,"u":0.014,"lo":0.002,"hi":0.026},{"a":100,"b":0.010,"u":0.018,"lo":0.005,"hi":0.031},{"a":120,"b":0.030,"u":0.020,"lo":0.005,"hi":0.036},{"a":140,"b":0.078,"u":0.020,"lo":0.005,"hi":0.036},{"a":160,"b":0.119,"u":0.020,"lo":0.003,"hi":0.036},{"a":180,"b":0.068,"u":0.022,"lo":0.010,"hi":0.032},{"a":200,"b":0.017,"u":0.017,"lo":0.003,"hi":0.031},{"a":220,"b":0.010,"u":0.014,"lo":0.002,"hi":0.026},{"a":240,"b":0.083,"u":0.025,"lo":0.014,"hi":0.036},{"a":260,"b":0.009,"u":0.022,"lo":0.010,"hi":0.034},{"a":280,"b":0.007,"u":0.018,"lo":0.009,"hi":0.027},{"a":300,"b":0.017,"u":0.017,"lo":0.007,"hi":0.027},{"a":320,"b":0.041,"u":0.010,"lo":0.000,"hi":0.020},{"a":340,"b":0.056,"u":0.017,"lo":0.006,"hi":0.028}],
"r4_135":[{"a":0,"b":0.022,"u":0.010,"lo":0.000,"hi":0.022},{"a":20,"b":0.009,"u":0.014,"lo":0.003,"hi":0.024},{"a":40,"b":0.009,"u":0.016,"lo":0.004,"hi":0.028},{"a":60,"b":0.027,"u":0.009,"lo":0.000,"hi":0.018},{"a":80,"b":0.016,"u":0.016,"lo":0.004,"hi":0.028},{"a":100,"b":0.012,"u":0.015,"lo":0.003,"hi":0.027},{"a":120,"b":0.036,"u":0.016,"lo":0.003,"hi":0.027},{"a":140,"b":0.083,"u":0.018,"lo":0.003,"hi":0.034},{"a":160,"b":0.127,"u":0.026,"lo":0.009,"hi":0.042},{"a":180,"b":0.078,"u":0.014,"lo":0.003,"hi":0.024},{"a":200,"b":0.018,"u":0.017,"lo":0.005,"hi":0.031},{"a":220,"b":0.010,"u":0.010,"lo":0.000,"hi":0.020},{"a":240,"b":0.082,"u":0.025,"lo":0.015,"hi":0.036},{"a":260,"b":0.009,"u":0.022,"lo":0.011,"hi":0.033},{"a":280,"b":0.007,"u":0.022,"lo":0.011,"hi":0.033},{"a":300,"b":0.024,"u":0.012,"lo":0.002,"hi":0.022},{"a":320,"b":0.049,"u":0.014,"lo":0.004,"hi":0.024},{"a":340,"b":0.068,"u":0.022,"lo":0.012,"hi":0.032}],
"r4_133":[{"a":0,"b":0.027,"u":0.015,"lo":0.004,"hi":0.026},{"a":20,"b":0.010,"u":0.013,"lo":0.003,"hi":0.023},{"a":40,"b":0.009,"u":0.017,"lo":0.007,"hi":0.027},{"a":60,"b":0.027,"u":0.009,"lo":0.000,"hi":0.018},{"a":80,"b":0.016,"u":0.014,"lo":0.004,"hi":0.024},{"a":100,"b":0.014,"u":0.017,"lo":0.003,"hi":0.029},{"a":120,"b":0.041,"u":0.017,"lo":0.003,"hi":0.032},{"a":140,"b":0.085,"u":0.018,"lo":0.005,"hi":0.032},{"a":160,"b":0.123,"u":0.024,"lo":0.010,"hi":0.036},{"a":180,"b":0.088,"u":0.017,"lo":0.003,"hi":0.032},{"a":200,"b":0.022,"u":0.025,"lo":0.010,"hi":0.041},{"a":220,"b":0.012,"u":0.012,"lo":0.002,"hi":0.022},{"a":240,"b":0.081,"u":0.020,"lo":0.010,"hi":0.032},{"a":260,"b":0.009,"u":0.022,"lo":0.010,"hi":0.034},{"a":280,"b":0.009,"u":0.019,"lo":0.009,"hi":0.029},{"a":300,"b":0.028,"u":0.016,"lo":0.006,"hi":0.026},{"a":320,"b":0.053,"u":0.017,"lo":0.007,"hi":0.027},{"a":340,"b":0.073,"u":0.018,"lo":0.008,"hi":0.028}],
"r4_131":[{"a":0,"b":0.034,"u":0.014,"lo":0.003,"hi":0.025},{"a":20,"b":0.014,"u":0.016,"lo":0.005,"hi":0.027},{"a":40,"b":0.009,"u":0.020,"lo":0.010,"hi":0.032},{"a":60,"b":0.026,"u":0.009,"lo":0.000,"hi":0.018},{"a":80,"b":0.016,"u":0.014,"lo":0.004,"hi":0.024},{"a":100,"b":0.016,"u":0.022,"lo":0.012,"hi":0.031},{"a":120,"b":0.046,"u":0.014,"lo":0.004,"hi":0.024},{"a":140,"b":0.079,"u":0.020,"lo":0.007,"hi":0.032},{"a":160,"b":0.112,"u":0.022,"lo":0.003,"hi":0.041},{"a":180,"b":0.097,"u":0.019,"lo":0.005,"hi":0.032},{"a":200,"b":0.025,"u":0.018,"lo":0.007,"hi":0.029},{"a":220,"b":0.012,"u":0.012,"lo":0.002,"hi":0.022},{"a":240,"b":0.079,"u":0.024,"lo":0.012,"hi":0.036},{"a":260,"b":0.009,"u":0.025,"lo":0.014,"hi":0.036},{"a":280,"b":0.009,"u":0.026,"lo":0.014,"hi":0.037},{"a":300,"b":0.036,"u":0.012,"lo":0.002,"hi":0.022},{"a":320,"b":0.056,"u":0.014,"lo":0.004,"hi":0.024},{"a":340,"b":0.076,"u":0.015,"lo":0.005,"hi":0.025}]
},
"vconcat":[
{"title":{"text":"p vs. azimuth, ring 1 (GHz freqs.)","anchor":"middle","dx":16,"offset":7},"columns":4,"bounds":"flush","spacing":{"row":21,"column":25},
"concat":[
{"title":"8.46","data":{"name":"r1_846"},"resolve":{"axis":{"x":"independent","y":"independent"}},"encoding":{"x":{"field":"a","type":"quantitative","scale":{"domain":[0,340],"nice":false},"axis":null}},"layer":[{"mark":{"type":"rule","clip":true},"encoding":{"y":{"field":"lo","type":"quantitative","scale":{"domain":[0,0.2],"nice":false},"axis":null},"y2":{"field":"hi"}}},{"transform":[{"fold":["lo","hi"]}],"mark":{"type":"tick","orient":"horizontal","clip":true},"encoding":{"y":{"field":"value","type":"quantitative","scale":{"domain":[0,0.2],"nice":false},"axis":null}}},{"mark":{"type":"point","color":"#0000ff","clip":true},"encoding":{"x":{"field":"a","type":"quantitative","axis":{"orient":"top","values":[0,20,40,60,80,100,120,140,160,180,200,220,240,260,280,300,320,340],"labels":false,"title":null}},"y":{"field":"u","type":"quantitative","axis":{"orient":"right","values":[0,0.05,0.1,0.15,0.2],"labels":false,"title":null}}}},{"mark":{"type":"point","color":"black","clip":true},"encoding":{"x":{"field":"a","type":"quantitative","axis":{"values":[0,20,40,60,80,100,120,140,160,180,200,220,240,260,280,300,320,340],"labels":false,"title":null}},"y":{"field":"b","type":"quantitative","axis":{"values":[0,0.05,0.1,0.15,0.2],"format":".2f","title":"p"}}}}]},
{"title":"4.86","data":{"name":"r1_486"},"resolve":{"axis":{"x":"independent","y":"independent"}},"encoding":{"x":{"field":"a","type":"quantitative","scale":{"domain":[0,340],"nice":false},"axis":null}},"layer":[{"mark":{"type":"rule","clip":true},"encoding":{"y":{"field":"lo","type":"quantitative","scale":{"domain":[0,0.2],"nice":false},"axis":null},"y2":{"field":"hi"}}},{"transform":[{"fold":["lo","hi"]}],"mark":{"type":"tick","orient":"horizontal","clip":true},"encoding":{"y":{"field":"value","type":"quantitative","scale":{"domain":[0,0.2],"nice":false},"axis":null}}},{"mark":{"type":"point","color":"#0000ff","clip":true},"encoding":{"x":{"field":"a","type":"quantitative","axis":{"orient":"top","values":[0,20,40,60,80,100,120,140,160,180,200,220,240,260,280,300,320,340],"labels":false,"title":null}},"y":{"field":"u","type":"quantitative","axis":{"orient":"right","values":[0,0.05,0.1,0.15,0.2],"labels":false,"title":null}}}},{"mark":{"type":"point","color":"black","clip":true},"encoding":{"x":{"field":"a","type":"quantitative","axis":{"values":[0,20,40,60,80,100,120,140,160,180,200,220,240,260,280,300,320,340],"labels":false,"title":null}},"y":{"field":"b","type":"quantitative","axis":{"values":[0,0.05,0.1,0.15,0.2],"labels":false,"title":null}}}}]},
{"title":"2.33","data":{"name":"r1_233"},"resolve":{"axis":{"x":"independent","y":"independent"}},"encoding":{"x":{"field":"a","type":"quantitative","scale":{"domain":[0,340],"nice":false},"axis":null}},"layer":[{"mark":{"type":"rule","clip":true},"encoding":{"y":{"field":"lo","type":"quantitative","scale":{"domain":[0,0.2],"nice":false},"axis":null},"y2":{"field":"hi"}}},{"transform":[{"fold":["lo","hi"]}],"mark":{"type":"tick","orient":"horizontal","clip":true},"encoding":{"y":{"field":"value","type":"quantitative","scale":{"domain":[0,0.2],"nice":false},"axis":null}}},{"mark":{"type":"point","color":"#0000ff","clip":true},"encoding":{"x":{"field":"a","type":"quantitative","axis":{"orient":"top","values":[0,20,40,60,80,100,120,140,160,180,200,220,240,260,280,300,320,340],"labels":false,"title":null}},"y":{"field":"u","type":"quantitative","axis":{"orient":"right","values":[0,0.05,0.1,0.15,0.2],"labels":false,"title":null}}}},{"mark":{"type":"point","color":"black","clip":true},"encoding":{"x":{"field":"a","type":"quantitative","axis":{"values":[0,20,40,60,80,100,120,140,160,180,200,220,240,260,280,300,320,340],"labels":false,"title":null}},"y":{"field":"b","type":"quantitative","axis":{"values":[0,0.05,0.1,0.15,0.2],"labels":false,"title":null}}}}]},
{"title":"2.29","data":{"name":"r1_229"},"resolve":{"axis":{"x":"independent","y":"independent"}},"encoding":{"x":{"field":"a","type":"quantitative","scale":{"domain":[0,340],"nice":false},"axis":null}},"layer":[{"mark":{"type":"rule","clip":true},"encoding":{"y":{"field":"lo","type":"quantitative","scale":{"domain":[0,0.2],"nice":false},"axis":null},"y2":{"field":"hi"}}},{"transform":[{"fold":["lo","hi"]}],"mark":{"type":"tick","orient":"horizontal","clip":true},"encoding":{"y":{"field":"value","type":"quantitative","scale":{"domain":[0,0.2],"nice":false},"axis":null}}},{"mark":{"type":"point","color":"#0000ff","clip":true},"encoding":{"x":{"field":"a","type":"quantitative","axis":{"orient":"top","values":[0,20,40,60,80,100,120,140,160,180,200,220,240,260,280,300,320,340],"labels":false,"title":null}},"y":{"field":"u","type":"quantitative","axis":{"orient":"right","values":[0,0.05,0.1,0.15,0.2],"labels":false,"title":null}}}},{"mark":{"type":"point","color":"black","clip":true},"encoding":{"x":{"field":"a","type":"quantitative","axis":{"values":[0,20,40,60,80,100,120,140,160,180,200,220,240,260,280,300,320,340],"labels":false,"title":null}},"y":{"field":"b","type":"quantitative","axis":{"values":[0,0.05,0.1,0.15,0.2],"labels":false,"title":null}}}}]},
{"title":"2.27","data":{"name":"r1_227"},"resolve":{"axis":{"x":"independent","y":"independent"}},"encoding":{"x":{"field":"a","type":"quantitative","scale":{"domain":[0,340],"nice":false},"axis":null}},"layer":[{"mark":{"type":"rule","clip":true},"encoding":{"y":{"field":"lo","type":"quantitative","scale":{"domain":[0,0.2],"nice":false},"axis":null},"y2":{"field":"hi"}}},{"transform":[{"fold":["lo","hi"]}],"mark":{"type":"tick","orient":"horizontal","clip":true},"encoding":{"y":{"field":"value","type":"quantitative","scale":{"domain":[0,0.2],"nice":false},"axis":null}}},{"mark":{"type":"point","color":"#0000ff","clip":true},"encoding":{"x":{"field":"a","type":"quantitative","axis":{"orient":"top","values":[0,20,40,60,80,100,120,140,160,180,200,220,240,260,280,300,320,340],"labels":false,"title":null}},"y":{"field":"u","type":"quantitative","axis":{"orient":"right","values":[0,0.05,0.1,0.15,0.2],"labels":false,"title":null}}}},{"mark":{"type":"point","color":"black","clip":true},"encoding":{"x":{"field":"a","type":"quantitative","axis":{"values":[0,20,40,60,80,100,120,140,160,180,200,220,240,260,280,300,320,340],"labels":false,"title":null}},"y":{"field":"b","type":"quantitative","axis":{"values":[0,0.05,0.1,0.15,0.2],"format":".2f","title":"p"}}}}]},
{"title":"2.24","data":{"name":"r1_224"},"resolve":{"axis":{"x":"independent","y":"independent"}},"encoding":{"x":{"field":"a","type":"quantitative","scale":{"domain":[0,340],"nice":false},"axis":null}},"layer":[{"mark":{"type":"rule","clip":true},"encoding":{"y":{"field":"lo","type":"quantitative","scale":{"domain":[0,0.2],"nice":false},"axis":null},"y2":{"field":"hi"}}},{"transform":[{"fold":["lo","hi"]}],"mark":{"type":"tick","orient":"horizontal","clip":true},"encoding":{"y":{"field":"value","type":"quantitative","scale":{"domain":[0,0.2],"nice":false},"axis":null}}},{"mark":{"type":"point","color":"#0000ff","clip":true},"encoding":{"x":{"field":"a","type":"quantitative","axis":{"orient":"top","values":[0,20,40,60,80,100,120,140,160,180,200,220,240,260,280,300,320,340],"labels":false,"title":null}},"y":{"field":"u","type":"quantitative","axis":{"orient":"right","values":[0,0.05,0.1,0.15,0.2],"labels":false,"title":null}}}},{"mark":{"type":"point","color":"black","clip":true},"encoding":{"x":{"field":"a","type":"quantitative","axis":{"values":[0,20,40,60,80,100,120,140,160,180,200,220,240,260,280,300,320,340],"labels":false,"title":null}},"y":{"field":"b","type":"quantitative","axis":{"values":[0,0.05,0.1,0.15,0.2],"labels":false,"title":null}}}}]},
{"title":"2.21","data":{"name":"r1_221"},"resolve":{"axis":{"x":"independent","y":"independent"}},"encoding":{"x":{"field":"a","type":"quantitative","scale":{"domain":[0,340],"nice":false},"axis":null}},"layer":[{"mark":{"type":"rule","clip":true},"encoding":{"y":{"field":"lo","type":"quantitative","scale":{"domain":[0,0.2],"nice":false},"axis":null},"y2":{"field":"hi"}}},{"transform":[{"fold":["lo","hi"]}],"mark":{"type":"tick","orient":"horizontal","clip":true},"encoding":{"y":{"field":"value","type":"quantitative","scale":{"domain":[0,0.2],"nice":false},"axis":null}}},{"mark":{"type":"point","color":"#0000ff","clip":true},"encoding":{"x":{"field":"a","type":"quantitative","axis":{"orient":"top","values":[0,20,40,60,80,100,120,140,160,180,200,220,240,260,280,300,320,340],"labels":false,"title":null}},"y":{"field":"u","type":"quantitative","axis":{"orient":"right","values":[0,0.05,0.1,0.15,0.2],"labels":false,"title":null}}}},{"mark":{"type":"point","color":"black","clip":true},"encoding":{"x":{"field":"a","type":"quantitative","axis":{"values":[0,20,40,60,80,100,120,140,160,180,200,220,240,260,280,300,320,340],"labels":false,"title":null}},"y":{"field":"b","type":"quantitative","axis":{"values":[0,0.05,0.1,0.15,0.2],"labels":false,"title":null}}}}]},
{"title":"1.72","data":{"name":"r1_172"},"resolve":{"axis":{"x":"independent","y":"independent"}},"encoding":{"x":{"field":"a","type":"quantitative","scale":{"domain":[0,340],"nice":false},"axis":null}},"layer":[{"mark":{"type":"rule","clip":true},"encoding":{"y":{"field":"lo","type":"quantitative","scale":{"domain":[0,0.2],"nice":false},"axis":null},"y2":{"field":"hi"}}},{"transform":[{"fold":["lo","hi"]}],"mark":{"type":"tick","orient":"horizontal","clip":true},"encoding":{"y":{"field":"value","type":"quantitative","scale":{"domain":[0,0.2],"nice":false},"axis":null}}},{"mark":{"type":"point","color":"#0000ff","clip":true},"encoding":{"x":{"field":"a","type":"quantitative","axis":{"orient":"top","values":[0,20,40,60,80,100,120,140,160,180,200,220,240,260,280,300,320,340],"labels":false,"title":null}},"y":{"field":"u","type":"quantitative","axis":{"orient":"right","values":[0,0.05,0.1,0.15,0.2],"labels":false,"title":null}}}},{"mark":{"type":"point","color":"black","clip":true},"encoding":{"x":{"field":"a","type":"quantitative","axis":{"values":[0,20,40,60,80,100,120,140,160,180,200,220,240,260,280,300,320,340],"labels":false,"title":null}},"y":{"field":"b","type":"quantitative","axis":{"values":[0,0.05,0.1,0.15,0.2],"labels":false,"title":null}}}}]},
{"title":"1.69","data":{"name":"r1_169"},"resolve":{"axis":{"x":"independent","y":"independent"}},"encoding":{"x":{"field":"a","type":"quantitative","scale":{"domain":[0,340],"nice":false},"axis":null}},"layer":[{"mark":{"type":"rule","clip":true},"encoding":{"y":{"field":"lo","type":"quantitative","scale":{"domain":[0,0.2],"nice":false},"axis":null},"y2":{"field":"hi"}}},{"transform":[{"fold":["lo","hi"]}],"mark":{"type":"tick","orient":"horizontal","clip":true},"encoding":{"y":{"field":"value","type":"quantitative","scale":{"domain":[0,0.2],"nice":false},"axis":null}}},{"mark":{"type":"point","color":"#0000ff","clip":true},"encoding":{"x":{"field":"a","type":"quantitative","axis":{"orient":"top","values":[0,20,40,60,80,100,120,140,160,180,200,220,240,260,280,300,320,340],"labels":false,"title":null}},"y":{"field":"u","type":"quantitative","axis":{"orient":"right","values":[0,0.05,0.1,0.15,0.2],"labels":false,"title":null}}}},{"mark":{"type":"point","color":"black","clip":true},"encoding":{"x":{"field":"a","type":"quantitative","axis":{"values":[0,20,40,60,80,100,120,140,160,180,200,220,240,260,280,300,320,340],"labels":false,"title":null}},"y":{"field":"b","type":"quantitative","axis":{"values":[0,0.05,0.1,0.15,0.2],"format":".2f","title":"p"}}}}]},
{"title":"1.67","data":{"name":"r1_167"},"resolve":{"axis":{"x":"independent","y":"independent"}},"encoding":{"x":{"field":"a","type":"quantitative","scale":{"domain":[0,340],"nice":false},"axis":null}},"layer":[{"mark":{"type":"rule","clip":true},"encoding":{"y":{"field":"lo","type":"quantitative","scale":{"domain":[0,0.2],"nice":false},"axis":null},"y2":{"field":"hi"}}},{"transform":[{"fold":["lo","hi"]}],"mark":{"type":"tick","orient":"horizontal","clip":true},"encoding":{"y":{"field":"value","type":"quantitative","scale":{"domain":[0,0.2],"nice":false},"axis":null}}},{"mark":{"type":"point","color":"#0000ff","clip":true},"encoding":{"x":{"field":"a","type":"quantitative","axis":{"orient":"top","values":[0,20,40,60,80,100,120,140,160,180,200,220,240,260,280,300,320,340],"labels":false,"title":null}},"y":{"field":"u","type":"quantitative","axis":{"orient":"right","values":[0,0.05,0.1,0.15,0.2],"labels":false,"title":null}}}},{"mark":{"type":"point","color":"black","clip":true},"encoding":{"x":{"field":"a","type":"quantitative","axis":{"values":[0,20,40,60,80,100,120,140,160,180,200,220,240,260,280,300,320,340],"labels":false,"title":null}},"y":{"field":"b","type":"quantitative","axis":{"values":[0,0.05,0.1,0.15,0.2],"labels":false,"title":null}}}}]},
{"title":"1.64","data":{"name":"r1_164"},"resolve":{"axis":{"x":"independent","y":"independent"}},"encoding":{"x":{"field":"a","type":"quantitative","scale":{"domain":[0,340],"nice":false},"axis":null}},"layer":[{"mark":{"type":"rule","clip":true},"encoding":{"y":{"field":"lo","type":"quantitative","scale":{"domain":[0,0.2],"nice":false},"axis":null},"y2":{"field":"hi"}}},{"transform":[{"fold":["lo","hi"]}],"mark":{"type":"tick","orient":"horizontal","clip":true},"encoding":{"y":{"field":"value","type":"quantitative","scale":{"domain":[0,0.2],"nice":false},"axis":null}}},{"mark":{"type":"point","color":"#0000ff","clip":true},"encoding":{"x":{"field":"a","type":"quantitative","axis":{"orient":"top","values":[0,20,40,60,80,100,120,140,160,180,200,220,240,260,280,300,320,340],"labels":false,"title":null}},"y":{"field":"u","type":"quantitative","axis":{"orient":"right","values":[0,0.05,0.1,0.15,0.2],"labels":false,"title":null}}}},{"mark":{"type":"point","color":"black","clip":true},"encoding":{"x":{"field":"a","type":"quantitative","axis":{"values":[0,20,40,60,80,100,120,140,160,180,200,220,240,260,280,300,320,340],"labels":false,"title":null}},"y":{"field":"b","type":"quantitative","axis":{"values":[0,0.05,0.1,0.15,0.2],"labels":false,"title":null}}}}]},
{"title":"1.40","data":{"name":"r1_140"},"resolve":{"axis":{"x":"independent","y":"independent"}},"encoding":{"x":{"field":"a","type":"quantitative","scale":{"domain":[0,340],"nice":false},"axis":null}},"layer":[{"mark":{"type":"rule","clip":true},"encoding":{"y":{"field":"lo","type":"quantitative","scale":{"domain":[0,0.2],"nice":false},"axis":null},"y2":{"field":"hi"}}},{"transform":[{"fold":["lo","hi"]}],"mark":{"type":"tick","orient":"horizontal","clip":true},"encoding":{"y":{"field":"value","type":"quantitative","scale":{"domain":[0,0.2],"nice":false},"axis":null}}},{"mark":{"type":"point","color":"#0000ff","clip":true},"encoding":{"x":{"field":"a","type":"quantitative","axis":{"orient":"top","values":[0,20,40,60,80,100,120,140,160,180,200,220,240,260,280,300,320,340],"labels":false,"title":null}},"y":{"field":"u","type":"quantitative","axis":{"orient":"right","values":[0,0.05,0.1,0.15,0.2],"labels":false,"title":null}}}},{"mark":{"type":"point","color":"black","clip":true},"encoding":{"x":{"field":"a","type":"quantitative","axis":{"values":[0,20,40,60,80,100,120,140,160,180,200,220,240,260,280,300,320,340],"labels":false,"title":null}},"y":{"field":"b","type":"quantitative","axis":{"values":[0,0.05,0.1,0.15,0.2],"labels":false,"title":null}}}}]},
{"title":"1.38","data":{"name":"r1_138"},"resolve":{"axis":{"x":"independent","y":"independent"}},"encoding":{"x":{"field":"a","type":"quantitative","scale":{"domain":[0,340],"nice":false},"axis":null}},"layer":[{"mark":{"type":"rule","clip":true},"encoding":{"y":{"field":"lo","type":"quantitative","scale":{"domain":[0,0.2],"nice":false},"axis":null},"y2":{"field":"hi"}}},{"transform":[{"fold":["lo","hi"]}],"mark":{"type":"tick","orient":"horizontal","clip":true},"encoding":{"y":{"field":"value","type":"quantitative","scale":{"domain":[0,0.2],"nice":false},"axis":null}}},{"mark":{"type":"point","color":"#0000ff","clip":true},"encoding":{"x":{"field":"a","type":"quantitative","axis":{"orient":"top","values":[0,20,40,60,80,100,120,140,160,180,200,220,240,260,280,300,320,340],"labels":false,"title":null}},"y":{"field":"u","type":"quantitative","axis":{"orient":"right","values":[0,0.05,0.1,0.15,0.2],"labels":false,"title":null}}}},{"mark":{"type":"point","color":"black","clip":true},"encoding":{"x":{"field":"a","type":"quantitative","axis":{"values":[0,20,40,60,80,100,120,140,160,180,200,220,240,260,280,300,320,340],"labelExpr":"datum.value%60==0&&datum.value<340?datum.label:''","title":"ϕ (°)"}},"y":{"field":"b","type":"quantitative","axis":{"values":[0,0.05,0.1,0.15,0.2],"format":".2f","title":"p"}}}}]},
{"title":"1.35","data":{"name":"r1_135"},"resolve":{"axis":{"x":"independent","y":"independent"}},"encoding":{"x":{"field":"a","type":"quantitative","scale":{"domain":[0,340],"nice":false},"axis":null}},"layer":[{"mark":{"type":"rule","clip":true},"encoding":{"y":{"field":"lo","type":"quantitative","scale":{"domain":[0,0.2],"nice":false},"axis":null},"y2":{"field":"hi"}}},{"transform":[{"fold":["lo","hi"]}],"mark":{"type":"tick","orient":"horizontal","clip":true},"encoding":{"y":{"field":"value","type":"quantitative","scale":{"domain":[0,0.2],"nice":false},"axis":null}}},{"mark":{"type":"point","color":"#0000ff","clip":true},"encoding":{"x":{"field":"a","type":"quantitative","axis":{"orient":"top","values":[0,20,40,60,80,100,120,140,160,180,200,220,240,260,280,300,320,340],"labels":false,"title":null}},"y":{"field":"u","type":"quantitative","axis":{"orient":"right","values":[0,0.05,0.1,0.15,0.2],"labels":false,"title":null}}}},{"mark":{"type":"point","color":"black","clip":true},"encoding":{"x":{"field":"a","type":"quantitative","axis":{"values":[0,20,40,60,80,100,120,140,160,180,200,220,240,260,280,300,320,340],"labelExpr":"datum.value%60==0&&datum.value<340?datum.label:''","title":"ϕ (°)"}},"y":{"field":"b","type":"quantitative","axis":{"values":[0,0.05,0.1,0.15,0.2],"labels":false,"title":null}}}}]},
{"title":"1.33","data":{"name":"r1_133"},"resolve":{"axis":{"x":"independent","y":"independent"}},"encoding":{"x":{"field":"a","type":"quantitative","scale":{"domain":[0,340],"nice":false},"axis":null}},"layer":[{"mark":{"type":"rule","clip":true},"encoding":{"y":{"field":"lo","type":"quantitative","scale":{"domain":[0,0.2],"nice":false},"axis":null},"y2":{"field":"hi"}}},{"transform":[{"fold":["lo","hi"]}],"mark":{"type":"tick","orient":"horizontal","clip":true},"encoding":{"y":{"field":"value","type":"quantitative","scale":{"domain":[0,0.2],"nice":false},"axis":null}}},{"mark":{"type":"point","color":"#0000ff","clip":true},"encoding":{"x":{"field":"a","type":"quantitative","axis":{"orient":"top","values":[0,20,40,60,80,100,120,140,160,180,200,220,240,260,280,300,320,340],"labels":false,"title":null}},"y":{"field":"u","type":"quantitative","axis":{"orient":"right","values":[0,0.05,0.1,0.15,0.2],"labels":false,"title":null}}}},{"mark":{"type":"point","color":"black","clip":true},"encoding":{"x":{"field":"a","type":"quantitative","axis":{"values":[0,20,40,60,80,100,120,140,160,180,200,220,240,260,280,300,320,340],"labelExpr":"datum.value%60==0&&datum.value<340?datum.label:''","title":"ϕ (°)"}},"y":{"field":"b","type":"quantitative","axis":{"values":[0,0.05,0.1,0.15,0.2],"labels":false,"title":null}}}}]},
{"title":"1.31","data":{"name":"r1_131"},"resolve":{"axis":{"x":"independent","y":"independent"}},"encoding":{"x":{"field":"a","type":"quantitative","scale":{"domain":[0,340],"nice":false},"axis":null}},"layer":[{"mark":{"type":"rule","clip":true},"encoding":{"y":{"field":"lo","type":"quantitative","scale":{"domain":[0,0.2],"nice":false},"axis":null},"y2":{"field":"hi"}}},{"transform":[{"fold":["lo","hi"]}],"mark":{"type":"tick","orient":"horizontal","clip":true},"encoding":{"y":{"field":"value","type":"quantitative","scale":{"domain":[0,0.2],"nice":false},"axis":null}}},{"mark":{"type":"point","color":"#0000ff","clip":true},"encoding":{"x":{"field":"a","type":"quantitative","axis":{"orient":"top","values":[0,20,40,60,80,100,120,140,160,180,200,220,240,260,280,300,320,340],"labels":false,"title":null}},"y":{"field":"u","type":"quantitative","axis":{"orient":"right","values":[0,0.05,0.1,0.15,0.2],"labels":false,"title":null}}}},{"mark":{"type":"point","color":"black","clip":true},"encoding":{"x":{"field":"a","type":"quantitative","axis":{"values":[0,20,40,60,80,100,120,140,160,180,200,220,240,260,280,300,320,340],"labelExpr":"datum.value%60==0&&datum.value<340?datum.label:''","title":"ϕ (°)"}},"y":{"field":"b","type":"quantitative","axis":{"values":[0,0.05,0.1,0.15,0.2],"labels":false,"title":null}}}}]}
]},
{"title":{"text":"p vs. azimuth, ring 4 (GHz freqs.)","anchor":"middle","dx":16,"offset":7},"columns":4,"bounds":"flush","spacing":{"row":21,"column":25},
"concat":[
{"title":"8.46","data":{"name":"r4_846"},"resolve":{"axis":{"x":"independent","y":"independent"}},"encoding":{"x":{"field":"a","type":"quantitative","scale":{"domain":[0,340],"nice":false},"axis":null}},"layer":[{"mark":{"type":"rule","clip":true},"encoding":{"y":{"field":"lo","type":"quantitative","scale":{"domain":[0,0.2],"nice":false},"axis":null},"y2":{"field":"hi"}}},{"transform":[{"fold":["lo","hi"]}],"mark":{"type":"tick","orient":"horizontal","clip":true},"encoding":{"y":{"field":"value","type":"quantitative","scale":{"domain":[0,0.2],"nice":false},"axis":null}}},{"mark":{"type":"point","color":"#0000ff","clip":true},"encoding":{"x":{"field":"a","type":"quantitative","axis":{"orient":"top","values":[0,20,40,60,80,100,120,140,160,180,200,220,240,260,280,300,320,340],"labels":false,"title":null}},"y":{"field":"u","type":"quantitative","axis":{"orient":"right","values":[0,0.05,0.1,0.15,0.2],"labels":false,"title":null}}}},{"mark":{"type":"point","color":"black","clip":true},"encoding":{"x":{"field":"a","type":"quantitative","axis":{"values":[0,20,40,60,80,100,120,140,160,180,200,220,240,260,280,300,320,340],"labels":false,"title":null}},"y":{"field":"b","type":"quantitative","axis":{"values":[0,0.05,0.1,0.15,0.2],"format":".2f","title":"p"}}}}]},
{"title":"4.86","data":{"name":"r4_486"},"resolve":{"axis":{"x":"independent","y":"independent"}},"encoding":{"x":{"field":"a","type":"quantitative","scale":{"domain":[0,340],"nice":false},"axis":null}},"layer":[{"mark":{"type":"rule","clip":true},"encoding":{"y":{"field":"lo","type":"quantitative","scale":{"domain":[0,0.2],"nice":false},"axis":null},"y2":{"field":"hi"}}},{"transform":[{"fold":["lo","hi"]}],"mark":{"type":"tick","orient":"horizontal","clip":true},"encoding":{"y":{"field":"value","type":"quantitative","scale":{"domain":[0,0.2],"nice":false},"axis":null}}},{"mark":{"type":"point","color":"#0000ff","clip":true},"encoding":{"x":{"field":"a","type":"quantitative","axis":{"orient":"top","values":[0,20,40,60,80,100,120,140,160,180,200,220,240,260,280,300,320,340],"labels":false,"title":null}},"y":{"field":"u","type":"quantitative","axis":{"orient":"right","values":[0,0.05,0.1,0.15,0.2],"labels":false,"title":null}}}},{"mark":{"type":"point","color":"black","clip":true},"encoding":{"x":{"field":"a","type":"quantitative","axis":{"values":[0,20,40,60,80,100,120,140,160,180,200,220,240,260,280,300,320,340],"labels":false,"title":null}},"y":{"field":"b","type":"quantitative","axis":{"values":[0,0.05,0.1,0.15,0.2],"labels":false,"title":null}}}}]},
{"title":"2.33","data":{"name":"r4_233"},"resolve":{"axis":{"x":"independent","y":"independent"}},"encoding":{"x":{"field":"a","type":"quantitative","scale":{"domain":[0,340],"nice":false},"axis":null}},"layer":[{"mark":{"type":"rule","clip":true},"encoding":{"y":{"field":"lo","type":"quantitative","scale":{"domain":[0,0.2],"nice":false},"axis":null},"y2":{"field":"hi"}}},{"transform":[{"fold":["lo","hi"]}],"mark":{"type":"tick","orient":"horizontal","clip":true},"encoding":{"y":{"field":"value","type":"quantitative","scale":{"domain":[0,0.2],"nice":false},"axis":null}}},{"mark":{"type":"point","color":"#0000ff","clip":true},"encoding":{"x":{"field":"a","type":"quantitative","axis":{"orient":"top","values":[0,20,40,60,80,100,120,140,160,180,200,220,240,260,280,300,320,340],"labels":false,"title":null}},"y":{"field":"u","type":"quantitative","axis":{"orient":"right","values":[0,0.05,0.1,0.15,0.2],"labels":false,"title":null}}}},{"mark":{"type":"point","color":"black","clip":true},"encoding":{"x":{"field":"a","type":"quantitative","axis":{"values":[0,20,40,60,80,100,120,140,160,180,200,220,240,260,280,300,320,340],"labels":false,"title":null}},"y":{"field":"b","type":"quantitative","axis":{"values":[0,0.05,0.1,0.15,0.2],"labels":false,"title":null}}}}]},
{"title":"2.29","data":{"name":"r4_229"},"resolve":{"axis":{"x":"independent","y":"independent"}},"encoding":{"x":{"field":"a","type":"quantitative","scale":{"domain":[0,340],"nice":false},"axis":null}},"layer":[{"mark":{"type":"rule","clip":true},"encoding":{"y":{"field":"lo","type":"quantitative","scale":{"domain":[0,0.2],"nice":false},"axis":null},"y2":{"field":"hi"}}},{"transform":[{"fold":["lo","hi"]}],"mark":{"type":"tick","orient":"horizontal","clip":true},"encoding":{"y":{"field":"value","type":"quantitative","scale":{"domain":[0,0.2],"nice":false},"axis":null}}},{"mark":{"type":"point","color":"#0000ff","clip":true},"encoding":{"x":{"field":"a","type":"quantitative","axis":{"orient":"top","values":[0,20,40,60,80,100,120,140,160,180,200,220,240,260,280,300,320,340],"labels":false,"title":null}},"y":{"field":"u","type":"quantitative","axis":{"orient":"right","values":[0,0.05,0.1,0.15,0.2],"labels":false,"title":null}}}},{"mark":{"type":"point","color":"black","clip":true},"encoding":{"x":{"field":"a","type":"quantitative","axis":{"values":[0,20,40,60,80,100,120,140,160,180,200,220,240,260,280,300,320,340],"labels":false,"title":null}},"y":{"field":"b","type":"quantitative","axis":{"values":[0,0.05,0.1,0.15,0.2],"labels":false,"title":null}}}}]},
{"title":"2.27","data":{"name":"r4_227"},"resolve":{"axis":{"x":"independent","y":"independent"}},"encoding":{"x":{"field":"a","type":"quantitative","scale":{"domain":[0,340],"nice":false},"axis":null}},"layer":[{"mark":{"type":"rule","clip":true},"encoding":{"y":{"field":"lo","type":"quantitative","scale":{"domain":[0,0.2],"nice":false},"axis":null},"y2":{"field":"hi"}}},{"transform":[{"fold":["lo","hi"]}],"mark":{"type":"tick","orient":"horizontal","clip":true},"encoding":{"y":{"field":"value","type":"quantitative","scale":{"domain":[0,0.2],"nice":false},"axis":null}}},{"mark":{"type":"point","color":"#0000ff","clip":true},"encoding":{"x":{"field":"a","type":"quantitative","axis":{"orient":"top","values":[0,20,40,60,80,100,120,140,160,180,200,220,240,260,280,300,320,340],"labels":false,"title":null}},"y":{"field":"u","type":"quantitative","axis":{"orient":"right","values":[0,0.05,0.1,0.15,0.2],"labels":false,"title":null}}}},{"mark":{"type":"point","color":"black","clip":true},"encoding":{"x":{"field":"a","type":"quantitative","axis":{"values":[0,20,40,60,80,100,120,140,160,180,200,220,240,260,280,300,320,340],"labels":false,"title":null}},"y":{"field":"b","type":"quantitative","axis":{"values":[0,0.05,0.1,0.15,0.2],"format":".2f","title":"p"}}}}]},
{"title":"2.24","data":{"name":"r4_224"},"resolve":{"axis":{"x":"independent","y":"independent"}},"encoding":{"x":{"field":"a","type":"quantitative","scale":{"domain":[0,340],"nice":false},"axis":null}},"layer":[{"mark":{"type":"rule","clip":true},"encoding":{"y":{"field":"lo","type":"quantitative","scale":{"domain":[0,0.2],"nice":false},"axis":null},"y2":{"field":"hi"}}},{"transform":[{"fold":["lo","hi"]}],"mark":{"type":"tick","orient":"horizontal","clip":true},"encoding":{"y":{"field":"value","type":"quantitative","scale":{"domain":[0,0.2],"nice":false},"axis":null}}},{"mark":{"type":"point","color":"#0000ff","clip":true},"encoding":{"x":{"field":"a","type":"quantitative","axis":{"orient":"top","values":[0,20,40,60,80,100,120,140,160,180,200,220,240,260,280,300,320,340],"labels":false,"title":null}},"y":{"field":"u","type":"quantitative","axis":{"orient":"right","values":[0,0.05,0.1,0.15,0.2],"labels":false,"title":null}}}},{"mark":{"type":"point","color":"black","clip":true},"encoding":{"x":{"field":"a","type":"quantitative","axis":{"values":[0,20,40,60,80,100,120,140,160,180,200,220,240,260,280,300,320,340],"labels":false,"title":null}},"y":{"field":"b","type":"quantitative","axis":{"values":[0,0.05,0.1,0.15,0.2],"labels":false,"title":null}}}}]},
{"title":"2.21","data":{"name":"r4_221"},"resolve":{"axis":{"x":"independent","y":"independent"}},"encoding":{"x":{"field":"a","type":"quantitative","scale":{"domain":[0,340],"nice":false},"axis":null}},"layer":[{"mark":{"type":"rule","clip":true},"encoding":{"y":{"field":"lo","type":"quantitative","scale":{"domain":[0,0.2],"nice":false},"axis":null},"y2":{"field":"hi"}}},{"transform":[{"fold":["lo","hi"]}],"mark":{"type":"tick","orient":"horizontal","clip":true},"encoding":{"y":{"field":"value","type":"quantitative","scale":{"domain":[0,0.2],"nice":false},"axis":null}}},{"mark":{"type":"point","color":"#0000ff","clip":true},"encoding":{"x":{"field":"a","type":"quantitative","axis":{"orient":"top","values":[0,20,40,60,80,100,120,140,160,180,200,220,240,260,280,300,320,340],"labels":false,"title":null}},"y":{"field":"u","type":"quantitative","axis":{"orient":"right","values":[0,0.05,0.1,0.15,0.2],"labels":false,"title":null}}}},{"mark":{"type":"point","color":"black","clip":true},"encoding":{"x":{"field":"a","type":"quantitative","axis":{"values":[0,20,40,60,80,100,120,140,160,180,200,220,240,260,280,300,320,340],"labels":false,"title":null}},"y":{"field":"b","type":"quantitative","axis":{"values":[0,0.05,0.1,0.15,0.2],"labels":false,"title":null}}}}]},
{"title":"1.72","data":{"name":"r4_172"},"resolve":{"axis":{"x":"independent","y":"independent"}},"encoding":{"x":{"field":"a","type":"quantitative","scale":{"domain":[0,340],"nice":false},"axis":null}},"layer":[{"mark":{"type":"rule","clip":true},"encoding":{"y":{"field":"lo","type":"quantitative","scale":{"domain":[0,0.2],"nice":false},"axis":null},"y2":{"field":"hi"}}},{"transform":[{"fold":["lo","hi"]}],"mark":{"type":"tick","orient":"horizontal","clip":true},"encoding":{"y":{"field":"value","type":"quantitative","scale":{"domain":[0,0.2],"nice":false},"axis":null}}},{"mark":{"type":"point","color":"#0000ff","clip":true},"encoding":{"x":{"field":"a","type":"quantitative","axis":{"orient":"top","values":[0,20,40,60,80,100,120,140,160,180,200,220,240,260,280,300,320,340],"labels":false,"title":null}},"y":{"field":"u","type":"quantitative","axis":{"orient":"right","values":[0,0.05,0.1,0.15,0.2],"labels":false,"title":null}}}},{"mark":{"type":"point","color":"black","clip":true},"encoding":{"x":{"field":"a","type":"quantitative","axis":{"values":[0,20,40,60,80,100,120,140,160,180,200,220,240,260,280,300,320,340],"labels":false,"title":null}},"y":{"field":"b","type":"quantitative","axis":{"values":[0,0.05,0.1,0.15,0.2],"labels":false,"title":null}}}}]},
{"title":"1.69","data":{"name":"r4_169"},"resolve":{"axis":{"x":"independent","y":"independent"}},"encoding":{"x":{"field":"a","type":"quantitative","scale":{"domain":[0,340],"nice":false},"axis":null}},"layer":[{"mark":{"type":"rule","clip":true},"encoding":{"y":{"field":"lo","type":"quantitative","scale":{"domain":[0,0.2],"nice":false},"axis":null},"y2":{"field":"hi"}}},{"transform":[{"fold":["lo","hi"]}],"mark":{"type":"tick","orient":"horizontal","clip":true},"encoding":{"y":{"field":"value","type":"quantitative","scale":{"domain":[0,0.2],"nice":false},"axis":null}}},{"mark":{"type":"point","color":"#0000ff","clip":true},"encoding":{"x":{"field":"a","type":"quantitative","axis":{"orient":"top","values":[0,20,40,60,80,100,120,140,160,180,200,220,240,260,280,300,320,340],"labels":false,"title":null}},"y":{"field":"u","type":"quantitative","axis":{"orient":"right","values":[0,0.05,0.1,0.15,0.2],"labels":false,"title":null}}}},{"mark":{"type":"point","color":"black","clip":true},"encoding":{"x":{"field":"a","type":"quantitative","axis":{"values":[0,20,40,60,80,100,120,140,160,180,200,220,240,260,280,300,320,340],"labels":false,"title":null}},"y":{"field":"b","type":"quantitative","axis":{"values":[0,0.05,0.1,0.15,0.2],"format":".2f","title":"p"}}}}]},
{"title":"1.67","data":{"name":"r4_167"},"resolve":{"axis":{"x":"independent","y":"independent"}},"encoding":{"x":{"field":"a","type":"quantitative","scale":{"domain":[0,340],"nice":false},"axis":null}},"layer":[{"mark":{"type":"rule","clip":true},"encoding":{"y":{"field":"lo","type":"quantitative","scale":{"domain":[0,0.2],"nice":false},"axis":null},"y2":{"field":"hi"}}},{"transform":[{"fold":["lo","hi"]}],"mark":{"type":"tick","orient":"horizontal","clip":true},"encoding":{"y":{"field":"value","type":"quantitative","scale":{"domain":[0,0.2],"nice":false},"axis":null}}},{"mark":{"type":"point","color":"#0000ff","clip":true},"encoding":{"x":{"field":"a","type":"quantitative","axis":{"orient":"top","values":[0,20,40,60,80,100,120,140,160,180,200,220,240,260,280,300,320,340],"labels":false,"title":null}},"y":{"field":"u","type":"quantitative","axis":{"orient":"right","values":[0,0.05,0.1,0.15,0.2],"labels":false,"title":null}}}},{"mark":{"type":"point","color":"black","clip":true},"encoding":{"x":{"field":"a","type":"quantitative","axis":{"values":[0,20,40,60,80,100,120,140,160,180,200,220,240,260,280,300,320,340],"labels":false,"title":null}},"y":{"field":"b","type":"quantitative","axis":{"values":[0,0.05,0.1,0.15,0.2],"labels":false,"title":null}}}}]},
{"title":"1.64","data":{"name":"r4_164"},"resolve":{"axis":{"x":"independent","y":"independent"}},"encoding":{"x":{"field":"a","type":"quantitative","scale":{"domain":[0,340],"nice":false},"axis":null}},"layer":[{"mark":{"type":"rule","clip":true},"encoding":{"y":{"field":"lo","type":"quantitative","scale":{"domain":[0,0.2],"nice":false},"axis":null},"y2":{"field":"hi"}}},{"transform":[{"fold":["lo","hi"]}],"mark":{"type":"tick","orient":"horizontal","clip":true},"encoding":{"y":{"field":"value","type":"quantitative","scale":{"domain":[0,0.2],"nice":false},"axis":null}}},{"mark":{"type":"point","color":"#0000ff","clip":true},"encoding":{"x":{"field":"a","type":"quantitative","axis":{"orient":"top","values":[0,20,40,60,80,100,120,140,160,180,200,220,240,260,280,300,320,340],"labels":false,"title":null}},"y":{"field":"u","type":"quantitative","axis":{"orient":"right","values":[0,0.05,0.1,0.15,0.2],"labels":false,"title":null}}}},{"mark":{"type":"point","color":"black","clip":true},"encoding":{"x":{"field":"a","type":"quantitative","axis":{"values":[0,20,40,60,80,100,120,140,160,180,200,220,240,260,280,300,320,340],"labels":false,"title":null}},"y":{"field":"b","type":"quantitative","axis":{"values":[0,0.05,0.1,0.15,0.2],"labels":false,"title":null}}}}]},
{"title":"1.40","data":{"name":"r4_140"},"resolve":{"axis":{"x":"independent","y":"independent"}},"encoding":{"x":{"field":"a","type":"quantitative","scale":{"domain":[0,340],"nice":false},"axis":null}},"layer":[{"mark":{"type":"rule","clip":true},"encoding":{"y":{"field":"lo","type":"quantitative","scale":{"domain":[0,0.2],"nice":false},"axis":null},"y2":{"field":"hi"}}},{"transform":[{"fold":["lo","hi"]}],"mark":{"type":"tick","orient":"horizontal","clip":true},"encoding":{"y":{"field":"value","type":"quantitative","scale":{"domain":[0,0.2],"nice":false},"axis":null}}},{"mark":{"type":"point","color":"#0000ff","clip":true},"encoding":{"x":{"field":"a","type":"quantitative","axis":{"orient":"top","values":[0,20,40,60,80,100,120,140,160,180,200,220,240,260,280,300,320,340],"labels":false,"title":null}},"y":{"field":"u","type":"quantitative","axis":{"orient":"right","values":[0,0.05,0.1,0.15,0.2],"labels":false,"title":null}}}},{"mark":{"type":"point","color":"black","clip":true},"encoding":{"x":{"field":"a","type":"quantitative","axis":{"values":[0,20,40,60,80,100,120,140,160,180,200,220,240,260,280,300,320,340],"labels":false,"title":null}},"y":{"field":"b","type":"quantitative","axis":{"values":[0,0.05,0.1,0.15,0.2],"labels":false,"title":null}}}}]},
{"title":"1.38","data":{"name":"r4_138"},"resolve":{"axis":{"x":"independent","y":"independent"}},"encoding":{"x":{"field":"a","type":"quantitative","scale":{"domain":[0,340],"nice":false},"axis":null}},"layer":[{"mark":{"type":"rule","clip":true},"encoding":{"y":{"field":"lo","type":"quantitative","scale":{"domain":[0,0.2],"nice":false},"axis":null},"y2":{"field":"hi"}}},{"transform":[{"fold":["lo","hi"]}],"mark":{"type":"tick","orient":"horizontal","clip":true},"encoding":{"y":{"field":"value","type":"quantitative","scale":{"domain":[0,0.2],"nice":false},"axis":null}}},{"mark":{"type":"point","color":"#0000ff","clip":true},"encoding":{"x":{"field":"a","type":"quantitative","axis":{"orient":"top","values":[0,20,40,60,80,100,120,140,160,180,200,220,240,260,280,300,320,340],"labels":false,"title":null}},"y":{"field":"u","type":"quantitative","axis":{"orient":"right","values":[0,0.05,0.1,0.15,0.2],"labels":false,"title":null}}}},{"mark":{"type":"point","color":"black","clip":true},"encoding":{"x":{"field":"a","type":"quantitative","axis":{"values":[0,20,40,60,80,100,120,140,160,180,200,220,240,260,280,300,320,340],"labelExpr":"datum.value%60==0&&datum.value<340?datum.label:''","title":"ϕ (°)"}},"y":{"field":"b","type":"quantitative","axis":{"values":[0,0.05,0.1,0.15,0.2],"format":".2f","title":"p"}}}}]},
{"title":"1.35","data":{"name":"r4_135"},"resolve":{"axis":{"x":"independent","y":"independent"}},"encoding":{"x":{"field":"a","type":"quantitative","scale":{"domain":[0,340],"nice":false},"axis":null}},"layer":[{"mark":{"type":"rule","clip":true},"encoding":{"y":{"field":"lo","type":"quantitative","scale":{"domain":[0,0.2],"nice":false},"axis":null},"y2":{"field":"hi"}}},{"transform":[{"fold":["lo","hi"]}],"mark":{"type":"tick","orient":"horizontal","clip":true},"encoding":{"y":{"field":"value","type":"quantitative","scale":{"domain":[0,0.2],"nice":false},"axis":null}}},{"mark":{"type":"point","color":"#0000ff","clip":true},"encoding":{"x":{"field":"a","type":"quantitative","axis":{"orient":"top","values":[0,20,40,60,80,100,120,140,160,180,200,220,240,260,280,300,320,340],"labels":false,"title":null}},"y":{"field":"u","type":"quantitative","axis":{"orient":"right","values":[0,0.05,0.1,0.15,0.2],"labels":false,"title":null}}}},{"mark":{"type":"point","color":"black","clip":true},"encoding":{"x":{"field":"a","type":"quantitative","axis":{"values":[0,20,40,60,80,100,120,140,160,180,200,220,240,260,280,300,320,340],"labelExpr":"datum.value%60==0&&datum.value<340?datum.label:''","title":"ϕ (°)"}},"y":{"field":"b","type":"quantitative","axis":{"values":[0,0.05,0.1,0.15,0.2],"labels":false,"title":null}}}}]},
{"title":"1.33","data":{"name":"r4_133"},"resolve":{"axis":{"x":"independent","y":"independent"}},"encoding":{"x":{"field":"a","type":"quantitative","scale":{"domain":[0,340],"nice":false},"axis":null}},"layer":[{"mark":{"type":"rule","clip":true},"encoding":{"y":{"field":"lo","type":"quantitative","scale":{"domain":[0,0.2],"nice":false},"axis":null},"y2":{"field":"hi"}}},{"transform":[{"fold":["lo","hi"]}],"mark":{"type":"tick","orient":"horizontal","clip":true},"encoding":{"y":{"field":"value","type":"quantitative","scale":{"domain":[0,0.2],"nice":false},"axis":null}}},{"mark":{"type":"point","color":"#0000ff","clip":true},"encoding":{"x":{"field":"a","type":"quantitative","axis":{"orient":"top","values":[0,20,40,60,80,100,120,140,160,180,200,220,240,260,280,300,320,340],"labels":false,"title":null}},"y":{"field":"u","type":"quantitative","axis":{"orient":"right","values":[0,0.05,0.1,0.15,0.2],"labels":false,"title":null}}}},{"mark":{"type":"point","color":"black","clip":true},"encoding":{"x":{"field":"a","type":"quantitative","axis":{"values":[0,20,40,60,80,100,120,140,160,180,200,220,240,260,280,300,320,340],"labelExpr":"datum.value%60==0&&datum.value<340?datum.label:''","title":"ϕ (°)"}},"y":{"field":"b","type":"quantitative","axis":{"values":[0,0.05,0.1,0.15,0.2],"labels":false,"title":null}}}}]},
{"title":"1.31","data":{"name":"r4_131"},"resolve":{"axis":{"x":"independent","y":"independent"}},"encoding":{"x":{"field":"a","type":"quantitative","scale":{"domain":[0,340],"nice":false},"axis":null}},"layer":[{"mark":{"type":"rule","clip":true},"encoding":{"y":{"field":"lo","type":"quantitative","scale":{"domain":[0,0.2],"nice":false},"axis":null},"y2":{"field":"hi"}}},{"transform":[{"fold":["lo","hi"]}],"mark":{"type":"tick","orient":"horizontal","clip":true},"encoding":{"y":{"field":"value","type":"quantitative","scale":{"domain":[0,0.2],"nice":false},"axis":null}}},{"mark":{"type":"point","color":"#0000ff","clip":true},"encoding":{"x":{"field":"a","type":"quantitative","axis":{"orient":"top","values":[0,20,40,60,80,100,120,140,160,180,200,220,240,260,280,300,320,340],"labels":false,"title":null}},"y":{"field":"u","type":"quantitative","axis":{"orient":"right","values":[0,0.05,0.1,0.15,0.2],"labels":false,"title":null}}}},{"mark":{"type":"point","color":"black","clip":true},"encoding":{"x":{"field":"a","type":"quantitative","axis":{"values":[0,20,40,60,80,100,120,140,160,180,200,220,240,260,280,300,320,340],"labelExpr":"datum.value%60==0&&datum.value<340?datum.label:''","title":"ϕ (°)"}},"y":{"field":"b","type":"quantitative","axis":{"values":[0,0.05,0.1,0.15,0.2],"labels":false,"title":null}}}}]}
]}
],
"config":{
"view":{"continuousWidth":128,"continuousHeight":97,"stroke":"black","strokeWidth":1},
"font":"DejaVu Sans",
"axis":{"domain":false,"grid":false,"tickSize":-4,"tickColor":"black","tickWidth":1,"labelColor":"black","labelFont":"DejaVu Sans","titleFont":"DejaVu Serif","titleFontStyle":"italic","titleFontWeight":"normal","titleFontSize":16,"titleColor":"black","labelOverlap":false,"labelFlush":false},
"axisX":{"labelFontSize":10,"labelPadding":10,"titlePadding":10},
"axisY":{"labelFontSize":15.5,"labelPadding":9,"titlePadding":5},
"title":{"font":"DejaVu Sans","fontSize":16,"fontWeight":"normal","color":"black","offset":-1},
"point":{"filled":true,"size":30,"opacity":1},
"rule":{"color":"#0000ff","strokeWidth":1.2},
"tick":{"color":"#0000ff","size":7,"thickness":1.2}
}
}
